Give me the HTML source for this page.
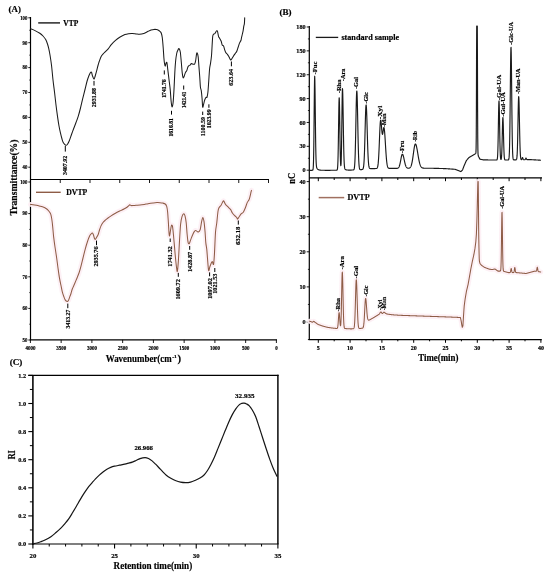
<!DOCTYPE html>
<html><head><meta charset="utf-8"><style>
html,body{margin:0;padding:0;background:#fff;}
body{width:550px;height:575px;overflow:hidden;}
svg{display:block;font-family:"Liberation Serif", serif;will-change:transform;}
text{stroke:#000;stroke-width:0.18px;}
</style></head><body>
<svg width="550" height="575" viewBox="0 0 550 575">
<rect width="550" height="575" fill="#fff"/>
<text x="8.60" y="12.40" font-size="8.9" text-anchor="start" font-weight="bold" fill="#000" textLength="12.30" lengthAdjust="spacingAndGlyphs">(A)</text>
<line x1="30.50" y1="17.00" x2="30.50" y2="180.10" stroke="#000" stroke-width="1.2"/>
<line x1="28.30" y1="17.80" x2="30.50" y2="17.80" stroke="#000" stroke-width="0.9"/>
<text x="27.40" y="19.60" font-size="5.2" text-anchor="end" font-weight="bold" fill="#000" textLength="7.20" lengthAdjust="spacingAndGlyphs">100</text>
<line x1="29.30" y1="30.25" x2="30.50" y2="30.25" stroke="#000" stroke-width="0.8"/>
<line x1="28.30" y1="42.70" x2="30.50" y2="42.70" stroke="#000" stroke-width="0.9"/>
<text x="27.40" y="44.50" font-size="5.2" text-anchor="end" font-weight="bold" fill="#000" textLength="4.80" lengthAdjust="spacingAndGlyphs">90</text>
<line x1="29.30" y1="55.15" x2="30.50" y2="55.15" stroke="#000" stroke-width="0.8"/>
<line x1="28.30" y1="67.60" x2="30.50" y2="67.60" stroke="#000" stroke-width="0.9"/>
<text x="27.40" y="69.40" font-size="5.2" text-anchor="end" font-weight="bold" fill="#000" textLength="4.80" lengthAdjust="spacingAndGlyphs">80</text>
<line x1="29.30" y1="80.05" x2="30.50" y2="80.05" stroke="#000" stroke-width="0.8"/>
<line x1="28.30" y1="92.50" x2="30.50" y2="92.50" stroke="#000" stroke-width="0.9"/>
<text x="27.40" y="94.30" font-size="5.2" text-anchor="end" font-weight="bold" fill="#000" textLength="4.80" lengthAdjust="spacingAndGlyphs">70</text>
<line x1="29.30" y1="104.95" x2="30.50" y2="104.95" stroke="#000" stroke-width="0.8"/>
<line x1="28.30" y1="117.40" x2="30.50" y2="117.40" stroke="#000" stroke-width="0.9"/>
<text x="27.40" y="119.20" font-size="5.2" text-anchor="end" font-weight="bold" fill="#000" textLength="4.80" lengthAdjust="spacingAndGlyphs">60</text>
<line x1="29.30" y1="129.85" x2="30.50" y2="129.85" stroke="#000" stroke-width="0.8"/>
<line x1="28.30" y1="142.30" x2="30.50" y2="142.30" stroke="#000" stroke-width="0.9"/>
<text x="27.40" y="144.10" font-size="5.2" text-anchor="end" font-weight="bold" fill="#000" textLength="4.80" lengthAdjust="spacingAndGlyphs">50</text>
<line x1="29.30" y1="154.75" x2="30.50" y2="154.75" stroke="#000" stroke-width="0.8"/>
<line x1="28.30" y1="167.20" x2="30.50" y2="167.20" stroke="#000" stroke-width="0.9"/>
<text x="27.40" y="169.00" font-size="5.2" text-anchor="end" font-weight="bold" fill="#000" textLength="4.80" lengthAdjust="spacingAndGlyphs">40</text>
<line x1="30.50" y1="179.50" x2="269.00" y2="179.50" stroke="#000" stroke-width="1.2"/>
<line x1="30.50" y1="179.50" x2="30.50" y2="183.00" stroke="#000" stroke-width="0.9"/>
<line x1="60.25" y1="179.50" x2="60.25" y2="183.00" stroke="#000" stroke-width="0.9"/>
<line x1="90.00" y1="179.50" x2="90.00" y2="183.00" stroke="#000" stroke-width="0.9"/>
<line x1="119.75" y1="179.50" x2="119.75" y2="183.00" stroke="#000" stroke-width="0.9"/>
<line x1="149.50" y1="179.50" x2="149.50" y2="183.00" stroke="#000" stroke-width="0.9"/>
<line x1="179.25" y1="179.50" x2="179.25" y2="183.00" stroke="#000" stroke-width="0.9"/>
<line x1="209.00" y1="179.50" x2="209.00" y2="183.00" stroke="#000" stroke-width="0.9"/>
<line x1="238.75" y1="179.50" x2="238.75" y2="183.00" stroke="#000" stroke-width="0.9"/>
<line x1="268.50" y1="179.50" x2="268.50" y2="183.00" stroke="#000" stroke-width="0.9"/>
<line x1="30.50" y1="179.50" x2="30.50" y2="340.10" stroke="#000" stroke-width="1.2"/>
<line x1="28.30" y1="182.00" x2="30.50" y2="182.00" stroke="#000" stroke-width="0.9"/>
<text x="27.40" y="183.80" font-size="5.2" text-anchor="end" font-weight="bold" fill="#000" textLength="7.20" lengthAdjust="spacingAndGlyphs">100</text>
<line x1="29.30" y1="197.80" x2="30.50" y2="197.80" stroke="#000" stroke-width="0.8"/>
<line x1="28.30" y1="213.60" x2="30.50" y2="213.60" stroke="#000" stroke-width="0.9"/>
<text x="27.40" y="215.40" font-size="5.2" text-anchor="end" font-weight="bold" fill="#000" textLength="4.80" lengthAdjust="spacingAndGlyphs">90</text>
<line x1="29.30" y1="229.40" x2="30.50" y2="229.40" stroke="#000" stroke-width="0.8"/>
<line x1="28.30" y1="245.20" x2="30.50" y2="245.20" stroke="#000" stroke-width="0.9"/>
<text x="27.40" y="247.00" font-size="5.2" text-anchor="end" font-weight="bold" fill="#000" textLength="4.80" lengthAdjust="spacingAndGlyphs">80</text>
<line x1="29.30" y1="261.00" x2="30.50" y2="261.00" stroke="#000" stroke-width="0.8"/>
<line x1="28.30" y1="276.80" x2="30.50" y2="276.80" stroke="#000" stroke-width="0.9"/>
<text x="27.40" y="278.60" font-size="5.2" text-anchor="end" font-weight="bold" fill="#000" textLength="4.80" lengthAdjust="spacingAndGlyphs">70</text>
<line x1="29.30" y1="292.60" x2="30.50" y2="292.60" stroke="#000" stroke-width="0.8"/>
<line x1="28.30" y1="308.40" x2="30.50" y2="308.40" stroke="#000" stroke-width="0.9"/>
<text x="27.40" y="310.20" font-size="5.2" text-anchor="end" font-weight="bold" fill="#000" textLength="4.80" lengthAdjust="spacingAndGlyphs">60</text>
<line x1="29.30" y1="324.20" x2="30.50" y2="324.20" stroke="#000" stroke-width="0.8"/>
<line x1="28.30" y1="340.00" x2="30.50" y2="340.00" stroke="#000" stroke-width="0.9"/>
<text x="27.40" y="341.80" font-size="5.2" text-anchor="end" font-weight="bold" fill="#000" textLength="4.80" lengthAdjust="spacingAndGlyphs">50</text>
<line x1="29.90" y1="339.80" x2="277.00" y2="339.80" stroke="#000" stroke-width="1.2"/>
<line x1="30.40" y1="339.80" x2="30.40" y2="343.00" stroke="#000" stroke-width="0.9"/>
<text x="30.40" y="349.50" font-size="5.2" text-anchor="middle" font-weight="bold" fill="#000" textLength="10.00" lengthAdjust="spacingAndGlyphs">4000</text>
<line x1="61.15" y1="339.80" x2="61.15" y2="343.00" stroke="#000" stroke-width="0.9"/>
<text x="61.15" y="349.50" font-size="5.2" text-anchor="middle" font-weight="bold" fill="#000" textLength="10.00" lengthAdjust="spacingAndGlyphs">3500</text>
<line x1="91.90" y1="339.80" x2="91.90" y2="343.00" stroke="#000" stroke-width="0.9"/>
<text x="91.90" y="349.50" font-size="5.2" text-anchor="middle" font-weight="bold" fill="#000" textLength="10.00" lengthAdjust="spacingAndGlyphs">3000</text>
<line x1="122.65" y1="339.80" x2="122.65" y2="343.00" stroke="#000" stroke-width="0.9"/>
<text x="122.65" y="349.50" font-size="5.2" text-anchor="middle" font-weight="bold" fill="#000" textLength="10.00" lengthAdjust="spacingAndGlyphs">2500</text>
<line x1="153.40" y1="339.80" x2="153.40" y2="343.00" stroke="#000" stroke-width="0.9"/>
<text x="153.40" y="349.50" font-size="5.2" text-anchor="middle" font-weight="bold" fill="#000" textLength="10.00" lengthAdjust="spacingAndGlyphs">2000</text>
<line x1="184.15" y1="339.80" x2="184.15" y2="343.00" stroke="#000" stroke-width="0.9"/>
<text x="184.15" y="349.50" font-size="5.2" text-anchor="middle" font-weight="bold" fill="#000" textLength="10.00" lengthAdjust="spacingAndGlyphs">1500</text>
<line x1="214.90" y1="339.80" x2="214.90" y2="343.00" stroke="#000" stroke-width="0.9"/>
<text x="214.90" y="349.50" font-size="5.2" text-anchor="middle" font-weight="bold" fill="#000" textLength="10.00" lengthAdjust="spacingAndGlyphs">1000</text>
<line x1="245.65" y1="339.80" x2="245.65" y2="343.00" stroke="#000" stroke-width="0.9"/>
<text x="245.65" y="349.50" font-size="5.2" text-anchor="middle" font-weight="bold" fill="#000" textLength="7.50" lengthAdjust="spacingAndGlyphs">500</text>
<line x1="276.40" y1="339.80" x2="276.40" y2="343.00" stroke="#000" stroke-width="0.9"/>
<text x="276.40" y="349.50" font-size="5.2" text-anchor="middle" font-weight="bold" fill="#000" textLength="2.50" lengthAdjust="spacingAndGlyphs">0</text>
<text x="105.70" y="362.20" font-size="10.6" text-anchor="start" font-weight="bold" fill="#000" textLength="66.00" lengthAdjust="spacingAndGlyphs">Wavenumber(cm</text>
<text x="172.20" y="358.00" font-size="5" text-anchor="start" font-weight="bold" fill="#000" textLength="4.50" lengthAdjust="spacingAndGlyphs">-1</text>
<text x="177.60" y="362.20" font-size="10.6" text-anchor="start" font-weight="bold" fill="#000" textLength="3.60" lengthAdjust="spacingAndGlyphs">)</text>
<text x="16.80" y="215.50" font-size="10" text-anchor="start" font-weight="bold" fill="#000" transform="rotate(-90 16.80 215.50)" textLength="76.00" lengthAdjust="spacingAndGlyphs">Transmittance(%)</text>
<line x1="38.20" y1="22.90" x2="60.00" y2="22.90" stroke="#1a1a1a" stroke-width="1.4"/>
<text x="63.30" y="25.50" font-size="7.7" text-anchor="start" font-weight="bold" fill="#000" textLength="14.90" lengthAdjust="spacingAndGlyphs">VTP</text>
<line x1="36.00" y1="192.30" x2="60.70" y2="192.30" stroke="#8e5c46" stroke-width="1.4"/>
<text x="66.30" y="195.20" font-size="7.9" text-anchor="start" font-weight="bold" fill="#000" textLength="20.90" lengthAdjust="spacingAndGlyphs">DVTP</text>
<path d="M30.50,28.80 C31.18,29.07 33.61,29.94 35.00,30.60 C36.39,31.26 38.60,32.39 39.80,33.20 C41.00,34.01 42.12,35.04 43.00,36.00 C43.88,36.96 45.03,38.40 45.70,39.60 C46.38,40.80 47.05,42.68 47.50,44.00 C47.95,45.32 48.33,46.75 48.70,48.40 C49.08,50.05 49.56,52.36 50.00,55.00 C50.44,57.64 51.15,62.25 51.60,66.00 C52.05,69.75 52.55,75.98 53.00,80.00 C53.45,84.02 54.15,89.05 54.60,92.80 C55.05,96.55 55.56,101.46 56.00,105.00 C56.44,108.54 57.05,113.25 57.50,116.40 C57.95,119.55 58.55,123.48 59.00,126.00 C59.45,128.52 60.05,131.25 60.50,133.20 C60.95,135.15 61.56,137.56 62.00,139.00 C62.44,140.44 62.83,141.87 63.40,142.80 C63.97,143.73 65.19,144.99 65.80,145.20 C66.41,145.41 66.96,144.90 67.50,144.20 C68.04,143.50 68.80,141.95 69.40,140.50 C70.00,139.05 70.84,136.33 71.50,134.50 C72.16,132.67 73.12,130.10 73.80,128.30 C74.47,126.50 75.34,124.28 76.00,122.50 C76.66,120.72 77.53,118.58 78.20,116.40 C78.88,114.23 79.83,110.66 80.50,108.00 C81.17,105.34 82.03,101.48 82.70,98.70 C83.38,95.92 84.34,92.16 85.00,89.50 C85.66,86.84 86.50,83.10 87.10,81.00 C87.70,78.90 88.47,76.81 89.00,75.50 C89.53,74.19 90.21,72.75 90.60,72.30 C90.99,71.85 91.31,71.96 91.60,72.50 C91.88,73.04 92.12,74.90 92.50,75.90 C92.88,76.91 93.69,79.19 94.10,79.20 C94.50,79.22 94.81,77.28 95.20,76.00 C95.59,74.72 96.28,72.28 96.70,70.70 C97.12,69.12 97.61,66.91 98.00,65.50 C98.39,64.09 98.79,62.71 99.30,61.30 C99.81,59.89 100.70,57.34 101.40,56.10 C102.11,54.86 102.98,54.09 104.00,53.00 C105.02,51.91 107.11,50.06 108.20,48.80 C109.30,47.54 110.20,45.86 111.30,44.60 C112.39,43.34 114.24,41.49 115.50,40.40 C116.76,39.30 118.29,38.17 119.70,37.30 C121.11,36.43 123.58,35.14 124.90,34.60 C126.22,34.06 127.41,33.87 128.50,33.70 C129.59,33.54 131.07,33.47 132.20,33.50 C133.32,33.53 134.91,33.78 136.00,33.90 C137.09,34.02 138.33,34.38 139.50,34.30 C140.67,34.22 142.50,33.85 143.80,33.40 C145.11,32.95 147.12,31.80 148.20,31.30 C149.28,30.80 150.13,30.39 151.00,30.10 C151.87,29.82 153.18,29.49 154.00,29.40 C154.82,29.31 155.84,29.38 156.50,29.50 C157.16,29.62 157.88,29.90 158.40,30.20 C158.93,30.50 159.56,31.04 160.00,31.50 C160.44,31.96 160.96,32.35 161.30,33.30 C161.65,34.24 162.02,35.64 162.30,37.80 C162.59,39.96 162.96,44.67 163.20,47.70 C163.44,50.73 163.71,55.63 163.90,58.00 C164.09,60.37 164.31,62.26 164.50,63.50 C164.69,64.75 164.97,66.33 165.20,66.30 C165.42,66.27 165.75,63.85 166.00,63.30 C166.25,62.74 166.63,61.66 166.90,62.60 C167.17,63.55 167.49,67.06 167.80,69.60 C168.12,72.13 168.64,76.53 169.00,79.50 C169.36,82.47 169.88,86.18 170.20,89.40 C170.51,92.62 170.83,98.38 171.10,101.00 C171.37,103.62 171.70,106.66 172.00,106.90 C172.30,107.14 172.80,105.22 173.10,102.60 C173.40,99.97 173.75,93.86 174.00,89.40 C174.25,84.95 174.56,77.12 174.80,72.90 C175.04,68.69 175.30,64.28 175.60,61.30 C175.90,58.31 176.43,54.74 176.80,53.00 C177.18,51.26 177.75,50.36 178.10,49.70 C178.44,49.04 178.77,48.26 179.10,48.60 C179.43,48.95 179.97,49.96 180.30,52.00 C180.63,54.04 181.02,59.11 181.30,62.20 C181.59,65.29 181.93,70.26 182.20,72.60 C182.47,74.94 182.81,77.22 183.10,77.80 C183.38,78.38 183.75,77.28 184.10,76.50 C184.44,75.72 185.01,73.47 185.40,72.60 C185.79,71.73 186.31,71.59 186.70,70.70 C187.09,69.81 187.61,67.50 188.00,66.70 C188.39,65.91 188.94,65.69 189.30,65.40 C189.66,65.12 190.10,65.08 190.40,64.80 C190.70,64.52 190.97,63.61 191.30,63.50 C191.63,63.39 192.10,64.01 192.60,64.10 C193.09,64.19 194.15,64.58 194.60,64.10 C195.05,63.62 195.31,62.37 195.60,60.90 C195.88,59.43 196.26,55.48 196.50,54.30 C196.74,53.11 196.94,52.59 197.20,53.00 C197.45,53.41 197.94,55.04 198.20,57.00 C198.45,58.96 198.66,62.98 198.90,66.10 C199.14,69.22 199.58,74.66 199.80,77.80 C200.03,80.94 200.18,85.03 200.40,87.00 C200.62,88.97 201.05,89.15 201.30,90.90 C201.56,92.66 201.89,96.26 202.10,98.70 C202.31,101.14 202.46,106.42 202.70,107.20 C202.94,107.98 203.40,104.98 203.70,103.90 C204.00,102.82 204.35,100.97 204.70,100.00 C205.04,99.03 205.66,97.82 206.00,97.40 C206.34,96.98 206.72,97.98 207.00,97.20 C207.28,96.42 207.65,94.53 207.90,92.20 C208.16,89.88 208.44,85.23 208.70,81.70 C208.95,78.17 209.33,71.43 209.60,68.70 C209.87,65.97 210.22,65.45 210.50,63.50 C210.78,61.55 211.25,58.62 211.50,55.70 C211.75,52.78 212.02,46.88 212.20,44.00 C212.38,41.12 212.53,37.92 212.70,36.50 C212.86,35.08 212.97,34.95 213.30,34.50 C213.63,34.05 214.42,34.04 214.90,33.50 C215.38,32.96 216.11,31.21 216.50,30.90 C216.89,30.58 217.19,30.54 217.50,31.40 C217.81,32.25 218.28,35.58 218.60,36.60 C218.91,37.62 219.21,37.50 219.60,38.20 C219.99,38.91 220.81,40.28 221.20,41.30 C221.59,42.32 221.84,44.30 222.20,45.00 C222.56,45.70 223.21,45.22 223.60,46.00 C223.99,46.78 224.46,49.18 224.80,50.20 C225.15,51.22 225.51,52.18 225.90,52.80 C226.29,53.41 226.97,53.76 227.40,54.30 C227.84,54.84 228.41,55.70 228.80,56.40 C229.19,57.10 229.69,58.45 230.00,59.00 C230.31,59.55 230.56,60.25 230.90,60.10 C231.25,59.95 231.81,58.78 232.30,58.00 C232.80,57.22 233.67,55.68 234.20,54.90 C234.72,54.12 235.41,53.35 235.80,52.80 C236.19,52.24 236.44,52.07 236.80,51.20 C237.16,50.33 237.81,48.17 238.20,47.00 C238.59,45.83 238.98,44.41 239.40,43.40 C239.82,42.39 240.69,41.15 241.00,40.30 C241.31,39.45 241.29,38.65 241.50,37.70 C241.71,36.76 242.16,35.02 242.40,34.00 C242.64,32.98 242.89,32.07 243.10,30.90 C243.31,29.73 243.61,27.29 243.80,26.20 C244.00,25.11 244.27,24.86 244.40,23.60 C244.53,22.34 244.66,18.67 244.70,17.80" fill="none" stroke="#1a1a1a" stroke-width="1.05" stroke-linejoin="round" stroke-linecap="round"/>
<path d="M30.50,204.40 C31.40,204.53 35.08,205.03 36.50,205.30 C37.92,205.57 38.92,205.90 40.00,206.20 C41.08,206.50 42.80,206.96 43.70,207.30 C44.60,207.65 45.36,208.08 46.00,208.50 C46.64,208.92 47.48,209.57 48.00,210.10 C48.52,210.62 49.08,211.35 49.50,212.00 C49.92,212.65 50.48,213.50 50.80,214.40 C51.11,215.30 51.38,216.71 51.60,218.00 C51.83,219.29 52.09,221.20 52.30,223.00 C52.51,224.80 52.79,227.84 53.00,230.00 C53.21,232.16 53.40,234.85 53.70,237.40 C54.00,239.95 54.56,243.99 55.00,247.00 C55.44,250.01 56.15,254.35 56.60,257.50 C57.05,260.65 57.58,264.99 58.00,268.00 C58.42,271.01 58.95,274.98 59.40,277.60 C59.85,280.23 60.56,283.36 61.00,285.50 C61.44,287.64 61.88,290.25 62.30,291.90 C62.72,293.55 63.36,295.30 63.80,296.50 C64.23,297.70 64.69,299.16 65.20,299.90 C65.71,300.63 66.72,301.31 67.20,301.40 C67.68,301.49 68.06,301.07 68.40,300.50 C68.75,299.93 69.11,298.65 69.50,297.60 C69.89,296.55 70.58,294.79 71.00,293.50 C71.42,292.21 71.77,290.43 72.30,289.00 C72.83,287.57 73.86,285.50 74.50,284.00 C75.14,282.50 75.92,280.65 76.60,279.00 C77.27,277.35 78.34,274.94 79.00,273.00 C79.66,271.06 80.40,268.35 81.00,266.10 C81.60,263.85 82.36,260.58 83.00,258.00 C83.64,255.42 84.62,251.38 85.30,248.90 C85.97,246.43 86.86,243.44 87.50,241.50 C88.14,239.56 89.07,237.12 89.60,236.00 C90.12,234.88 90.58,234.44 91.00,234.00 C91.42,233.56 92.03,232.95 92.40,233.10 C92.78,233.25 93.19,234.19 93.50,235.00 C93.81,235.81 94.23,237.84 94.50,238.50 C94.77,239.16 95.00,239.55 95.30,239.40 C95.60,239.25 96.06,238.24 96.50,237.50 C96.94,236.76 97.75,235.62 98.20,234.50 C98.65,233.38 99.08,231.29 99.50,230.00 C99.92,228.71 100.47,227.03 101.00,225.90 C101.53,224.78 102.36,223.35 103.00,222.50 C103.64,221.65 104.55,220.88 105.30,220.20 C106.05,219.52 107.13,218.65 108.00,218.00 C108.87,217.35 110.05,216.58 111.10,215.90 C112.15,215.22 113.71,214.24 115.00,213.50 C116.29,212.76 118.35,211.68 119.70,211.00 C121.05,210.32 122.91,209.56 124.00,209.00 C125.09,208.44 126.31,207.77 127.00,207.30 C127.69,206.84 128.18,206.29 128.60,205.90 C129.02,205.51 129.44,204.76 129.80,204.70 C130.16,204.64 130.59,205.37 131.00,205.50 C131.41,205.63 131.75,205.63 132.50,205.60 C133.25,205.57 134.88,205.39 136.00,205.30 C137.12,205.21 138.75,205.13 140.00,205.00 C141.25,204.87 143.10,204.59 144.30,204.40 C145.50,204.21 146.69,203.91 148.00,203.70 C149.31,203.49 151.65,203.16 153.00,203.00 C154.35,202.84 155.95,202.64 157.00,202.60 C158.05,202.56 159.13,202.62 160.00,202.70 C160.87,202.77 162.02,202.91 162.80,203.10 C163.58,203.29 164.61,203.52 165.20,204.00 C165.78,204.48 166.34,205.15 166.70,206.30 C167.06,207.46 167.34,209.22 167.60,211.70 C167.85,214.17 168.19,219.67 168.40,222.80 C168.61,225.94 168.82,230.62 169.00,232.60 C169.18,234.58 169.39,236.21 169.60,236.00 C169.81,235.79 170.13,232.76 170.40,231.20 C170.67,229.64 171.09,226.33 171.40,225.60 C171.72,224.87 172.19,224.84 172.50,226.30 C172.81,227.76 173.19,232.06 173.50,235.30 C173.81,238.54 174.28,244.34 174.60,247.90 C174.91,251.46 175.28,255.88 175.60,259.00 C175.91,262.12 176.43,266.87 176.70,268.70 C176.97,270.53 177.15,272.44 177.40,271.20 C177.66,269.95 178.09,264.94 178.40,260.40 C178.72,255.85 179.17,246.33 179.50,240.90 C179.83,235.47 180.22,227.84 180.60,224.20 C180.97,220.55 181.53,218.16 182.00,216.60 C182.47,215.04 183.25,213.91 183.70,213.80 C184.15,213.70 184.62,214.55 185.00,215.90 C185.38,217.25 185.88,220.09 186.20,222.80 C186.51,225.52 186.81,231.07 187.10,234.00 C187.38,236.93 187.78,240.85 188.10,242.30 C188.41,243.75 188.87,243.91 189.20,243.70 C189.53,243.49 189.99,241.74 190.30,240.90 C190.62,240.06 190.94,239.03 191.30,238.10 C191.66,237.17 192.28,235.63 192.70,234.70 C193.12,233.77 193.68,232.53 194.10,231.90 C194.52,231.27 195.08,230.60 195.50,230.50 C195.92,230.40 196.47,230.97 196.90,231.20 C197.34,231.42 197.91,232.24 198.40,232.00 C198.90,231.76 199.72,231.14 200.20,229.60 C200.68,228.06 201.21,223.53 201.60,221.70 C201.99,219.87 202.44,217.40 202.80,217.40 C203.16,217.40 203.66,219.48 204.00,221.70 C204.34,223.92 204.83,229.06 205.10,232.20 C205.37,235.33 205.55,239.99 205.80,242.60 C206.06,245.21 206.55,247.25 206.80,249.60 C207.06,251.95 207.23,255.18 207.50,258.30 C207.77,261.42 208.25,269.09 208.60,270.40 C208.94,271.70 209.37,268.17 209.80,267.00 C210.24,265.83 211.11,263.40 211.50,262.60 C211.89,261.81 212.09,261.44 212.40,261.70 C212.72,261.95 213.28,265.61 213.60,264.30 C213.91,263.00 214.22,257.81 214.50,253.00 C214.78,248.19 215.17,236.62 215.50,232.20 C215.83,227.77 216.32,226.63 216.70,223.50 C217.07,220.37 217.66,213.66 218.00,211.30 C218.34,208.95 218.53,208.72 219.00,207.80 C219.47,206.89 220.53,206.11 221.10,205.20 C221.67,204.28 222.41,202.34 222.80,201.70 C223.19,201.05 223.31,200.51 223.70,200.90 C224.09,201.29 224.88,203.52 225.40,204.30 C225.93,205.08 226.67,205.57 227.20,206.10 C227.72,206.62 228.38,207.28 228.90,207.80 C229.43,208.33 230.17,208.82 230.70,209.60 C231.22,210.38 231.80,212.09 232.40,213.00 C233.00,213.91 234.05,215.04 234.70,215.70 C235.34,216.36 236.26,216.89 236.70,217.40 C237.13,217.91 237.21,219.23 237.60,219.10 C237.99,218.97 238.78,217.28 239.30,216.50 C239.83,215.72 240.50,214.55 241.10,213.90 C241.70,213.25 242.66,213.11 243.30,212.20 C243.95,211.28 244.81,209.24 245.40,207.80 C245.99,206.36 246.67,203.77 247.20,202.60 C247.72,201.43 248.51,200.78 248.90,200.00 C249.29,199.22 249.49,198.57 249.80,197.40 C250.12,196.23 250.75,193.25 251.00,192.20 C251.25,191.15 251.43,190.67 251.50,190.40" fill="none" stroke="#fdeef4" stroke-width="5" stroke-linejoin="round" stroke-linecap="round" opacity="0.9"/>
<path d="M30.50,204.40 C31.40,204.53 35.08,205.03 36.50,205.30 C37.92,205.57 38.92,205.90 40.00,206.20 C41.08,206.50 42.80,206.96 43.70,207.30 C44.60,207.65 45.36,208.08 46.00,208.50 C46.64,208.92 47.48,209.57 48.00,210.10 C48.52,210.62 49.08,211.35 49.50,212.00 C49.92,212.65 50.48,213.50 50.80,214.40 C51.11,215.30 51.38,216.71 51.60,218.00 C51.83,219.29 52.09,221.20 52.30,223.00 C52.51,224.80 52.79,227.84 53.00,230.00 C53.21,232.16 53.40,234.85 53.70,237.40 C54.00,239.95 54.56,243.99 55.00,247.00 C55.44,250.01 56.15,254.35 56.60,257.50 C57.05,260.65 57.58,264.99 58.00,268.00 C58.42,271.01 58.95,274.98 59.40,277.60 C59.85,280.23 60.56,283.36 61.00,285.50 C61.44,287.64 61.88,290.25 62.30,291.90 C62.72,293.55 63.36,295.30 63.80,296.50 C64.23,297.70 64.69,299.16 65.20,299.90 C65.71,300.63 66.72,301.31 67.20,301.40 C67.68,301.49 68.06,301.07 68.40,300.50 C68.75,299.93 69.11,298.65 69.50,297.60 C69.89,296.55 70.58,294.79 71.00,293.50 C71.42,292.21 71.77,290.43 72.30,289.00 C72.83,287.57 73.86,285.50 74.50,284.00 C75.14,282.50 75.92,280.65 76.60,279.00 C77.27,277.35 78.34,274.94 79.00,273.00 C79.66,271.06 80.40,268.35 81.00,266.10 C81.60,263.85 82.36,260.58 83.00,258.00 C83.64,255.42 84.62,251.38 85.30,248.90 C85.97,246.43 86.86,243.44 87.50,241.50 C88.14,239.56 89.07,237.12 89.60,236.00 C90.12,234.88 90.58,234.44 91.00,234.00 C91.42,233.56 92.03,232.95 92.40,233.10 C92.78,233.25 93.19,234.19 93.50,235.00 C93.81,235.81 94.23,237.84 94.50,238.50 C94.77,239.16 95.00,239.55 95.30,239.40 C95.60,239.25 96.06,238.24 96.50,237.50 C96.94,236.76 97.75,235.62 98.20,234.50 C98.65,233.38 99.08,231.29 99.50,230.00 C99.92,228.71 100.47,227.03 101.00,225.90 C101.53,224.78 102.36,223.35 103.00,222.50 C103.64,221.65 104.55,220.88 105.30,220.20 C106.05,219.52 107.13,218.65 108.00,218.00 C108.87,217.35 110.05,216.58 111.10,215.90 C112.15,215.22 113.71,214.24 115.00,213.50 C116.29,212.76 118.35,211.68 119.70,211.00 C121.05,210.32 122.91,209.56 124.00,209.00 C125.09,208.44 126.31,207.77 127.00,207.30 C127.69,206.84 128.18,206.29 128.60,205.90 C129.02,205.51 129.44,204.76 129.80,204.70 C130.16,204.64 130.59,205.37 131.00,205.50 C131.41,205.63 131.75,205.63 132.50,205.60 C133.25,205.57 134.88,205.39 136.00,205.30 C137.12,205.21 138.75,205.13 140.00,205.00 C141.25,204.87 143.10,204.59 144.30,204.40 C145.50,204.21 146.69,203.91 148.00,203.70 C149.31,203.49 151.65,203.16 153.00,203.00 C154.35,202.84 155.95,202.64 157.00,202.60 C158.05,202.56 159.13,202.62 160.00,202.70 C160.87,202.77 162.02,202.91 162.80,203.10 C163.58,203.29 164.61,203.52 165.20,204.00 C165.78,204.48 166.34,205.15 166.70,206.30 C167.06,207.46 167.34,209.22 167.60,211.70 C167.85,214.17 168.19,219.67 168.40,222.80 C168.61,225.94 168.82,230.62 169.00,232.60 C169.18,234.58 169.39,236.21 169.60,236.00 C169.81,235.79 170.13,232.76 170.40,231.20 C170.67,229.64 171.09,226.33 171.40,225.60 C171.72,224.87 172.19,224.84 172.50,226.30 C172.81,227.76 173.19,232.06 173.50,235.30 C173.81,238.54 174.28,244.34 174.60,247.90 C174.91,251.46 175.28,255.88 175.60,259.00 C175.91,262.12 176.43,266.87 176.70,268.70 C176.97,270.53 177.15,272.44 177.40,271.20 C177.66,269.95 178.09,264.94 178.40,260.40 C178.72,255.85 179.17,246.33 179.50,240.90 C179.83,235.47 180.22,227.84 180.60,224.20 C180.97,220.55 181.53,218.16 182.00,216.60 C182.47,215.04 183.25,213.91 183.70,213.80 C184.15,213.70 184.62,214.55 185.00,215.90 C185.38,217.25 185.88,220.09 186.20,222.80 C186.51,225.52 186.81,231.07 187.10,234.00 C187.38,236.93 187.78,240.85 188.10,242.30 C188.41,243.75 188.87,243.91 189.20,243.70 C189.53,243.49 189.99,241.74 190.30,240.90 C190.62,240.06 190.94,239.03 191.30,238.10 C191.66,237.17 192.28,235.63 192.70,234.70 C193.12,233.77 193.68,232.53 194.10,231.90 C194.52,231.27 195.08,230.60 195.50,230.50 C195.92,230.40 196.47,230.97 196.90,231.20 C197.34,231.42 197.91,232.24 198.40,232.00 C198.90,231.76 199.72,231.14 200.20,229.60 C200.68,228.06 201.21,223.53 201.60,221.70 C201.99,219.87 202.44,217.40 202.80,217.40 C203.16,217.40 203.66,219.48 204.00,221.70 C204.34,223.92 204.83,229.06 205.10,232.20 C205.37,235.33 205.55,239.99 205.80,242.60 C206.06,245.21 206.55,247.25 206.80,249.60 C207.06,251.95 207.23,255.18 207.50,258.30 C207.77,261.42 208.25,269.09 208.60,270.40 C208.94,271.70 209.37,268.17 209.80,267.00 C210.24,265.83 211.11,263.40 211.50,262.60 C211.89,261.81 212.09,261.44 212.40,261.70 C212.72,261.95 213.28,265.61 213.60,264.30 C213.91,263.00 214.22,257.81 214.50,253.00 C214.78,248.19 215.17,236.62 215.50,232.20 C215.83,227.77 216.32,226.63 216.70,223.50 C217.07,220.37 217.66,213.66 218.00,211.30 C218.34,208.95 218.53,208.72 219.00,207.80 C219.47,206.89 220.53,206.11 221.10,205.20 C221.67,204.28 222.41,202.34 222.80,201.70 C223.19,201.05 223.31,200.51 223.70,200.90 C224.09,201.29 224.88,203.52 225.40,204.30 C225.93,205.08 226.67,205.57 227.20,206.10 C227.72,206.62 228.38,207.28 228.90,207.80 C229.43,208.33 230.17,208.82 230.70,209.60 C231.22,210.38 231.80,212.09 232.40,213.00 C233.00,213.91 234.05,215.04 234.70,215.70 C235.34,216.36 236.26,216.89 236.70,217.40 C237.13,217.91 237.21,219.23 237.60,219.10 C237.99,218.97 238.78,217.28 239.30,216.50 C239.83,215.72 240.50,214.55 241.10,213.90 C241.70,213.25 242.66,213.11 243.30,212.20 C243.95,211.28 244.81,209.24 245.40,207.80 C245.99,206.36 246.67,203.77 247.20,202.60 C247.72,201.43 248.51,200.78 248.90,200.00 C249.29,199.22 249.49,198.57 249.80,197.40 C250.12,196.23 250.75,193.25 251.00,192.20 C251.25,191.15 251.43,190.67 251.50,190.40" fill="none" stroke="#8e5c46" stroke-width="1.05" stroke-linejoin="round" stroke-linecap="round"/>
<text x="67.28" y="175.00" font-size="6" text-anchor="start" font-weight="bold" fill="#000" transform="rotate(-90 67.28 175.00)" textLength="19.10" lengthAdjust="spacingAndGlyphs">3407.92</text>
<line x1="65.30" y1="145.90" x2="65.30" y2="151.60" stroke="#000" stroke-width="1"/>
<text x="95.98" y="107.30" font-size="6" text-anchor="start" font-weight="bold" fill="#000" transform="rotate(-90 95.98 107.30)" textLength="19.40" lengthAdjust="spacingAndGlyphs">2931.88</text>
<line x1="94.00" y1="80.90" x2="94.00" y2="85.60" stroke="#000" stroke-width="1"/>
<text x="166.28" y="97.80" font-size="6" text-anchor="start" font-weight="bold" fill="#000" transform="rotate(-90 166.28 97.80)" textLength="18.50" lengthAdjust="spacingAndGlyphs">1741.76</text>
<line x1="164.30" y1="70.40" x2="164.30" y2="74.50" stroke="#000" stroke-width="1"/>
<text x="173.48" y="136.60" font-size="6" text-anchor="start" font-weight="bold" fill="#000" transform="rotate(-90 173.48 136.60)" textLength="18.40" lengthAdjust="spacingAndGlyphs">1616.81</text>
<line x1="171.50" y1="110.80" x2="171.50" y2="114.60" stroke="#000" stroke-width="1"/>
<text x="185.68" y="108.00" font-size="6" text-anchor="start" font-weight="bold" fill="#000" transform="rotate(-90 185.68 108.00)" textLength="16.40" lengthAdjust="spacingAndGlyphs">1421.41</text>
<line x1="183.70" y1="85.50" x2="183.70" y2="89.60" stroke="#000" stroke-width="1"/>
<text x="204.68" y="136.20" font-size="6" text-anchor="start" font-weight="bold" fill="#000" transform="rotate(-90 204.68 136.20)" textLength="19.20" lengthAdjust="spacingAndGlyphs">1100.59</text>
<line x1="202.70" y1="111.60" x2="202.70" y2="115.00" stroke="#000" stroke-width="1"/>
<text x="210.88" y="128.20" font-size="6" text-anchor="start" font-weight="bold" fill="#000" transform="rotate(-90 210.88 128.20)" textLength="18.80" lengthAdjust="spacingAndGlyphs">1023.99</text>
<line x1="208.90" y1="104.30" x2="208.90" y2="107.80" stroke="#000" stroke-width="1"/>
<text x="233.38" y="85.70" font-size="6" text-anchor="start" font-weight="bold" fill="#000" transform="rotate(-90 233.38 85.70)" textLength="16.70" lengthAdjust="spacingAndGlyphs">623.64</text>
<line x1="231.40" y1="61.50" x2="231.40" y2="66.30" stroke="#000" stroke-width="1"/>
<text x="69.78" y="328.40" font-size="6" text-anchor="start" font-weight="bold" fill="#000" transform="rotate(-90 69.78 328.40)" textLength="18.80" lengthAdjust="spacingAndGlyphs">3413.27</text>
<line x1="67.80" y1="303.60" x2="67.80" y2="308.20" stroke="#000" stroke-width="1"/>
<text x="98.48" y="266.60" font-size="6" text-anchor="start" font-weight="bold" fill="#000" transform="rotate(-90 98.48 266.60)" textLength="20.10" lengthAdjust="spacingAndGlyphs">2935.76</text>
<line x1="96.50" y1="240.60" x2="96.50" y2="245.20" stroke="#000" stroke-width="1"/>
<text x="172.18" y="266.70" font-size="6" text-anchor="start" font-weight="bold" fill="#000" transform="rotate(-90 172.18 266.70)" textLength="20.40" lengthAdjust="spacingAndGlyphs">1741.32</text>
<line x1="170.20" y1="238.50" x2="170.20" y2="242.00" stroke="#000" stroke-width="1"/>
<text x="180.28" y="299.50" font-size="6" text-anchor="start" font-weight="bold" fill="#000" transform="rotate(-90 180.28 299.50)" textLength="20.30" lengthAdjust="spacingAndGlyphs">1609.72</text>
<line x1="178.30" y1="272.90" x2="178.30" y2="276.80" stroke="#000" stroke-width="1"/>
<text x="191.68" y="272.10" font-size="6" text-anchor="start" font-weight="bold" fill="#000" transform="rotate(-90 191.68 272.10)" textLength="20.30" lengthAdjust="spacingAndGlyphs">1428.87</text>
<line x1="189.70" y1="246.00" x2="189.70" y2="249.80" stroke="#000" stroke-width="1"/>
<text x="211.58" y="298.90" font-size="6" text-anchor="start" font-weight="bold" fill="#000" transform="rotate(-90 211.58 298.90)" textLength="20.90" lengthAdjust="spacingAndGlyphs">1097.02</text>
<line x1="209.60" y1="272.40" x2="209.60" y2="276.30" stroke="#000" stroke-width="1"/>
<text x="216.78" y="293.70" font-size="6" text-anchor="start" font-weight="bold" fill="#000" transform="rotate(-90 216.78 293.70)" textLength="20.00" lengthAdjust="spacingAndGlyphs">1021.53</text>
<line x1="214.80" y1="268.00" x2="214.80" y2="272.00" stroke="#000" stroke-width="1"/>
<text x="240.28" y="245.00" font-size="6" text-anchor="start" font-weight="bold" fill="#000" transform="rotate(-90 240.28 245.00)" textLength="18.30" lengthAdjust="spacingAndGlyphs">632.18</text>
<line x1="238.30" y1="220.50" x2="238.30" y2="224.60" stroke="#000" stroke-width="1"/>
<text x="279.50" y="15.30" font-size="8.9" text-anchor="start" font-weight="bold" fill="#000" textLength="12.00" lengthAdjust="spacingAndGlyphs">(B)</text>
<line x1="309.30" y1="26.00" x2="309.30" y2="340.10" stroke="#000" stroke-width="1.2"/>
<line x1="306.70" y1="170.20" x2="309.30" y2="170.20" stroke="#000" stroke-width="0.9"/>
<text x="305.60" y="172.30" font-size="6" text-anchor="end" font-weight="bold" fill="#000" textLength="3.10" lengthAdjust="spacingAndGlyphs">0</text>
<line x1="307.90" y1="158.27" x2="309.30" y2="158.27" stroke="#000" stroke-width="0.8"/>
<line x1="306.70" y1="146.33" x2="309.30" y2="146.33" stroke="#000" stroke-width="0.9"/>
<text x="305.60" y="148.43" font-size="6" text-anchor="end" font-weight="bold" fill="#000" textLength="6.20" lengthAdjust="spacingAndGlyphs">30</text>
<line x1="307.90" y1="134.40" x2="309.30" y2="134.40" stroke="#000" stroke-width="0.8"/>
<line x1="306.70" y1="122.46" x2="309.30" y2="122.46" stroke="#000" stroke-width="0.9"/>
<text x="305.60" y="124.56" font-size="6" text-anchor="end" font-weight="bold" fill="#000" textLength="6.20" lengthAdjust="spacingAndGlyphs">60</text>
<line x1="307.90" y1="110.53" x2="309.30" y2="110.53" stroke="#000" stroke-width="0.8"/>
<line x1="306.70" y1="98.60" x2="309.30" y2="98.60" stroke="#000" stroke-width="0.9"/>
<text x="305.60" y="100.70" font-size="6" text-anchor="end" font-weight="bold" fill="#000" textLength="6.20" lengthAdjust="spacingAndGlyphs">90</text>
<line x1="307.90" y1="86.66" x2="309.30" y2="86.66" stroke="#000" stroke-width="0.8"/>
<line x1="306.70" y1="74.73" x2="309.30" y2="74.73" stroke="#000" stroke-width="0.9"/>
<text x="305.60" y="76.83" font-size="6" text-anchor="end" font-weight="bold" fill="#000" textLength="9.30" lengthAdjust="spacingAndGlyphs">120</text>
<line x1="307.90" y1="62.79" x2="309.30" y2="62.79" stroke="#000" stroke-width="0.8"/>
<line x1="306.70" y1="50.86" x2="309.30" y2="50.86" stroke="#000" stroke-width="0.9"/>
<text x="305.60" y="52.96" font-size="6" text-anchor="end" font-weight="bold" fill="#000" textLength="9.30" lengthAdjust="spacingAndGlyphs">150</text>
<line x1="307.90" y1="38.93" x2="309.30" y2="38.93" stroke="#000" stroke-width="0.8"/>
<line x1="306.70" y1="26.99" x2="309.30" y2="26.99" stroke="#000" stroke-width="0.9"/>
<text x="305.60" y="29.09" font-size="6" text-anchor="end" font-weight="bold" fill="#000" textLength="9.30" lengthAdjust="spacingAndGlyphs">180</text>
<line x1="309.30" y1="177.80" x2="542.00" y2="177.80" stroke="#000" stroke-width="1.2"/>
<line x1="318.30" y1="177.80" x2="318.30" y2="181.20" stroke="#000" stroke-width="1"/>
<line x1="334.20" y1="177.80" x2="334.20" y2="180.00" stroke="#000" stroke-width="1"/>
<line x1="350.10" y1="177.80" x2="350.10" y2="181.20" stroke="#000" stroke-width="1"/>
<line x1="366.00" y1="177.80" x2="366.00" y2="180.00" stroke="#000" stroke-width="1"/>
<line x1="381.90" y1="177.80" x2="381.90" y2="181.20" stroke="#000" stroke-width="1"/>
<line x1="397.80" y1="177.80" x2="397.80" y2="180.00" stroke="#000" stroke-width="1"/>
<line x1="413.70" y1="177.80" x2="413.70" y2="181.20" stroke="#000" stroke-width="1"/>
<line x1="429.60" y1="177.80" x2="429.60" y2="180.00" stroke="#000" stroke-width="1"/>
<line x1="445.50" y1="177.80" x2="445.50" y2="181.20" stroke="#000" stroke-width="1"/>
<line x1="461.40" y1="177.80" x2="461.40" y2="180.00" stroke="#000" stroke-width="1"/>
<line x1="477.30" y1="177.80" x2="477.30" y2="181.20" stroke="#000" stroke-width="1"/>
<line x1="493.20" y1="177.80" x2="493.20" y2="180.00" stroke="#000" stroke-width="1"/>
<line x1="509.10" y1="177.80" x2="509.10" y2="181.20" stroke="#000" stroke-width="1"/>
<line x1="525.00" y1="177.80" x2="525.00" y2="180.00" stroke="#000" stroke-width="1"/>
<line x1="540.90" y1="177.80" x2="540.90" y2="181.20" stroke="#000" stroke-width="1"/>
<line x1="306.70" y1="322.00" x2="309.30" y2="322.00" stroke="#000" stroke-width="0.9"/>
<text x="305.60" y="324.10" font-size="6" text-anchor="end" font-weight="bold" fill="#000" textLength="3.10" lengthAdjust="spacingAndGlyphs">0</text>
<line x1="307.90" y1="304.45" x2="309.30" y2="304.45" stroke="#000" stroke-width="0.8"/>
<line x1="306.70" y1="286.90" x2="309.30" y2="286.90" stroke="#000" stroke-width="0.9"/>
<text x="305.60" y="289.00" font-size="6" text-anchor="end" font-weight="bold" fill="#000" textLength="6.20" lengthAdjust="spacingAndGlyphs">10</text>
<line x1="307.90" y1="269.35" x2="309.30" y2="269.35" stroke="#000" stroke-width="0.8"/>
<line x1="306.70" y1="251.80" x2="309.30" y2="251.80" stroke="#000" stroke-width="0.9"/>
<text x="305.60" y="253.90" font-size="6" text-anchor="end" font-weight="bold" fill="#000" textLength="6.20" lengthAdjust="spacingAndGlyphs">20</text>
<line x1="307.90" y1="234.25" x2="309.30" y2="234.25" stroke="#000" stroke-width="0.8"/>
<line x1="306.70" y1="216.70" x2="309.30" y2="216.70" stroke="#000" stroke-width="0.9"/>
<text x="305.60" y="218.80" font-size="6" text-anchor="end" font-weight="bold" fill="#000" textLength="6.20" lengthAdjust="spacingAndGlyphs">30</text>
<line x1="307.90" y1="199.15" x2="309.30" y2="199.15" stroke="#000" stroke-width="0.8"/>
<line x1="306.70" y1="181.60" x2="309.30" y2="181.60" stroke="#000" stroke-width="0.9"/>
<text x="305.60" y="183.70" font-size="6" text-anchor="end" font-weight="bold" fill="#000" textLength="6.20" lengthAdjust="spacingAndGlyphs">40</text>
<line x1="307.90" y1="339.55" x2="309.30" y2="339.55" stroke="#000" stroke-width="0.8"/>
<line x1="308.70" y1="339.60" x2="541.80" y2="339.60" stroke="#000" stroke-width="1.2"/>
<line x1="318.30" y1="339.60" x2="318.30" y2="342.80" stroke="#000" stroke-width="1"/>
<text x="318.30" y="350.30" font-size="6" text-anchor="middle" font-weight="bold" fill="#000" textLength="3.00" lengthAdjust="spacingAndGlyphs">5</text>
<line x1="334.20" y1="339.60" x2="334.20" y2="341.30" stroke="#000" stroke-width="1"/>
<line x1="350.10" y1="339.60" x2="350.10" y2="342.80" stroke="#000" stroke-width="1"/>
<text x="350.10" y="350.30" font-size="6" text-anchor="middle" font-weight="bold" fill="#000" textLength="6.00" lengthAdjust="spacingAndGlyphs">10</text>
<line x1="366.00" y1="339.60" x2="366.00" y2="341.30" stroke="#000" stroke-width="1"/>
<line x1="381.90" y1="339.60" x2="381.90" y2="342.80" stroke="#000" stroke-width="1"/>
<text x="381.90" y="350.30" font-size="6" text-anchor="middle" font-weight="bold" fill="#000" textLength="6.00" lengthAdjust="spacingAndGlyphs">15</text>
<line x1="397.80" y1="339.60" x2="397.80" y2="341.30" stroke="#000" stroke-width="1"/>
<line x1="413.70" y1="339.60" x2="413.70" y2="342.80" stroke="#000" stroke-width="1"/>
<text x="413.70" y="350.30" font-size="6" text-anchor="middle" font-weight="bold" fill="#000" textLength="6.00" lengthAdjust="spacingAndGlyphs">20</text>
<line x1="429.60" y1="339.60" x2="429.60" y2="341.30" stroke="#000" stroke-width="1"/>
<line x1="445.50" y1="339.60" x2="445.50" y2="342.80" stroke="#000" stroke-width="1"/>
<text x="445.50" y="350.30" font-size="6" text-anchor="middle" font-weight="bold" fill="#000" textLength="6.00" lengthAdjust="spacingAndGlyphs">25</text>
<line x1="461.40" y1="339.60" x2="461.40" y2="341.30" stroke="#000" stroke-width="1"/>
<line x1="477.30" y1="339.60" x2="477.30" y2="342.80" stroke="#000" stroke-width="1"/>
<text x="477.30" y="350.30" font-size="6" text-anchor="middle" font-weight="bold" fill="#000" textLength="6.00" lengthAdjust="spacingAndGlyphs">30</text>
<line x1="493.20" y1="339.60" x2="493.20" y2="341.30" stroke="#000" stroke-width="1"/>
<line x1="509.10" y1="339.60" x2="509.10" y2="342.80" stroke="#000" stroke-width="1"/>
<text x="509.10" y="350.30" font-size="6" text-anchor="middle" font-weight="bold" fill="#000" textLength="6.00" lengthAdjust="spacingAndGlyphs">35</text>
<line x1="525.00" y1="339.60" x2="525.00" y2="341.30" stroke="#000" stroke-width="1"/>
<line x1="540.90" y1="339.60" x2="540.90" y2="342.80" stroke="#000" stroke-width="1"/>
<text x="540.90" y="350.30" font-size="6" text-anchor="middle" font-weight="bold" fill="#000" textLength="6.00" lengthAdjust="spacingAndGlyphs">40</text>
<text x="418.20" y="361.20" font-size="10" text-anchor="start" font-weight="bold" fill="#000" textLength="40.30" lengthAdjust="spacingAndGlyphs">Time(min)</text>
<text x="294.70" y="183.70" font-size="10" text-anchor="start" font-weight="bold" fill="#000" transform="rotate(-90 294.70 183.70)" textLength="10.90" lengthAdjust="spacingAndGlyphs">nC</text>
<line x1="315.80" y1="37.40" x2="338.20" y2="37.40" stroke="#1a1a1a" stroke-width="1.3"/>
<text x="341.40" y="39.60" font-size="8.1" text-anchor="start" font-weight="bold" fill="#000" textLength="57.80" lengthAdjust="spacingAndGlyphs">standard sample</text>
<line x1="318.70" y1="197.60" x2="344.20" y2="197.60" stroke="#a07060" stroke-width="1.5"/>
<text x="347.40" y="200.20" font-size="8.2" text-anchor="start" font-weight="bold" fill="#000">DVTP</text>
<path d="M309.60,170.30 L309.75,170.30 L309.90,170.30 L310.05,170.30 L310.20,170.30 L310.35,170.30 L310.50,170.30 L310.65,170.30 L310.80,170.30 L310.95,170.30 L311.10,170.30 L311.25,170.30 L311.40,170.30 L311.55,170.30 L311.70,170.30 L311.85,170.30 L312.00,170.30 L312.15,170.30 L312.30,170.29 L312.45,170.28 L312.60,170.24 L312.75,170.12 L312.90,169.86 L313.05,169.25 L313.20,168.02 L313.35,165.67 L313.50,161.59 L313.65,155.09 L313.80,145.63 L313.95,133.16 L314.10,118.40 L314.25,102.97 L314.40,89.21 L314.55,79.64 L314.70,76.20 L314.85,79.98 L315.00,88.26 L315.15,99.81 L315.30,112.96 L315.45,126.05 L315.60,137.77 L315.75,147.36 L315.90,154.61 L316.05,159.71 L316.20,163.10 L316.35,165.24 L316.50,166.55 L316.65,167.36 L316.80,167.87 L316.95,168.23 L317.10,168.49 L317.25,168.70 L317.40,168.88 L317.55,169.04 L317.70,169.18 L317.85,169.30 L318.00,169.41 L318.15,169.51 L318.30,169.59 L318.45,169.67 L318.60,169.74 L318.75,169.80 L318.90,169.85 L319.05,169.90 L319.20,169.95 L319.35,169.98 L319.50,170.02 L319.65,170.05 L319.80,170.08 L319.95,170.10 L320.10,170.12 L320.25,170.14 L320.40,170.16 L320.55,170.17 L320.70,170.19 L320.85,170.20 L321.00,170.21 L321.15,170.22 L321.30,170.23 L321.45,170.24 L321.60,170.24 L321.75,170.25 L321.90,170.26 L322.05,170.26 L322.20,170.26 L322.35,170.27 L322.50,170.27 L322.65,170.28 L322.80,170.28 L322.95,170.28 L323.10,170.28 L323.25,170.28 L323.40,170.29 L323.55,170.29 L323.70,170.29 L323.85,170.29 L324.00,170.29 L324.15,170.29 L324.30,170.29 L324.45,170.29 L324.60,170.29 L324.75,170.30 L324.90,170.30 L325.05,170.30 L325.20,170.30 L325.35,170.30 L325.50,170.30 L325.65,170.30 L325.80,170.30 L325.95,170.30 L326.10,170.30 L326.25,170.30 L326.40,170.30 L326.55,170.30 L326.70,170.30 L326.85,170.30 L327.00,170.30 L327.15,170.30 L327.30,170.30 L327.45,170.30 L327.60,170.30 L327.75,170.30 L327.90,170.30 L328.05,170.30 L328.20,170.30 L328.35,170.30 L328.50,170.30 L328.65,170.30 L328.80,170.30 L328.95,170.30 L329.10,170.30 L329.25,170.30 L329.40,170.30 L329.55,170.30 L329.70,170.30 L329.85,170.30 L330.00,170.30 L330.15,170.30 L330.30,170.30 L330.45,170.30 L330.60,170.29 L330.75,170.29 L330.90,170.29 L331.05,170.29 L331.20,170.29 L331.35,170.29 L331.50,170.28 L331.65,170.28 L331.80,170.28 L331.95,170.28 L332.10,170.28 L332.25,170.28 L332.40,170.28 L332.55,170.27 L332.70,170.27 L332.85,170.27 L333.00,170.27 L333.15,170.27 L333.30,170.27 L333.45,170.27 L333.60,170.26 L333.75,170.26 L333.90,170.26 L334.05,170.26 L334.20,170.26 L334.35,170.26 L334.50,170.25 L334.65,170.25 L334.80,170.25 L334.95,170.25 L335.10,170.25 L335.25,170.25 L335.40,170.25 L335.55,170.24 L335.70,170.24 L335.85,170.24 L336.00,170.24 L336.15,170.24 L336.30,170.24 L336.45,170.23 L336.60,170.22 L336.75,170.20 L336.90,170.16 L337.05,170.05 L337.20,169.83 L337.35,169.38 L337.50,168.53 L337.65,167.03 L337.80,164.54 L337.95,160.69 L338.10,155.15 L338.25,147.74 L338.40,138.59 L338.55,128.25 L338.70,117.69 L338.85,108.21 L339.00,101.19 L339.15,97.74 L339.30,98.44 L339.45,103.17 L339.60,111.16 L339.75,121.14 L339.90,131.75 L340.05,141.76 L340.20,150.31 L340.35,156.98 L340.50,161.67 L340.65,164.52 L340.80,165.68 L340.95,165.24 L341.10,163.13 L341.25,159.15 L341.40,153.08 L341.55,144.82 L341.70,134.55 L341.85,122.91 L342.00,111.03 L342.15,100.36 L342.30,92.45 L342.45,88.57 L342.60,89.49 L342.75,93.60 L342.90,100.14 L343.05,108.46 L343.20,117.78 L343.35,127.31 L343.50,136.35 L343.65,144.40 L343.80,151.18 L343.95,156.58 L344.10,160.69 L344.25,163.68 L344.40,165.77 L344.55,167.17 L344.70,168.09 L344.85,168.67 L345.00,169.04 L345.15,169.28 L345.30,169.44 L345.45,169.55 L345.60,169.63 L345.75,169.70 L345.90,169.75 L346.05,169.80 L346.20,169.84 L346.35,169.87 L346.50,169.90 L346.65,169.93 L346.80,169.95 L346.95,169.97 L347.10,169.99 L347.25,170.00 L347.40,170.02 L347.55,170.03 L347.70,170.04 L347.85,170.05 L348.00,170.05 L348.15,170.06 L348.30,170.06 L348.45,170.07 L348.60,170.07 L348.75,170.08 L348.90,170.08 L349.05,170.08 L349.20,170.08 L349.35,170.08 L349.50,170.09 L349.65,170.09 L349.80,170.09 L349.95,170.09 L350.10,170.09 L350.25,170.08 L350.40,170.08 L350.55,170.08 L350.70,170.07 L350.85,170.07 L351.00,170.06 L351.15,170.06 L351.30,170.06 L351.45,170.05 L351.60,170.05 L351.75,170.04 L351.90,170.04 L352.05,170.04 L352.20,170.03 L352.35,170.03 L352.50,170.02 L352.65,170.02 L352.80,170.01 L352.95,170.00 L353.10,169.99 L353.25,169.97 L353.40,169.93 L353.55,169.88 L353.70,169.78 L353.85,169.62 L354.00,169.35 L354.15,168.94 L354.30,168.30 L354.45,167.35 L354.60,165.98 L354.75,164.06 L354.90,161.44 L355.05,158.02 L355.20,153.68 L355.35,148.36 L355.50,142.10 L355.65,135.01 L355.80,127.31 L355.95,119.35 L356.10,111.54 L356.25,104.37 L356.40,98.34 L356.55,93.90 L356.70,91.39 L356.85,91.01 L357.00,92.63 L357.15,96.07 L357.30,101.10 L357.45,107.37 L357.60,114.46 L357.75,121.95 L357.90,129.45 L358.05,136.62 L358.20,143.18 L358.35,148.98 L358.50,153.91 L358.65,157.98 L358.80,161.22 L358.95,163.73 L359.10,165.61 L359.25,166.98 L359.40,167.95 L359.55,168.62 L359.70,169.06 L359.85,169.35 L360.00,169.53 L360.15,169.62 L360.30,169.67 L360.45,169.70 L360.60,169.70 L360.75,169.70 L360.90,169.68 L361.05,169.67 L361.20,169.65 L361.35,169.64 L361.50,169.62 L361.65,169.60 L361.80,169.58 L361.95,169.55 L362.10,169.53 L362.25,169.49 L362.40,169.44 L362.55,169.38 L362.70,169.28 L362.85,169.13 L363.00,168.91 L363.15,168.59 L363.30,168.13 L363.45,167.47 L363.60,166.55 L363.75,165.29 L363.90,163.63 L364.05,161.47 L364.20,158.74 L364.35,155.40 L364.50,151.42 L364.65,146.82 L364.80,141.66 L364.95,136.08 L365.10,130.27 L365.25,124.46 L365.40,118.93 L365.55,113.97 L365.70,109.88 L365.85,106.90 L366.00,105.23 L366.15,104.96 L366.30,105.93 L366.45,108.03 L366.60,111.14 L366.75,115.10 L366.90,119.72 L367.05,124.76 L367.20,130.02 L367.35,135.27 L367.50,140.35 L367.65,145.10 L367.80,149.42 L367.95,153.25 L368.10,156.54 L368.25,159.31 L368.40,161.58 L368.55,163.40 L368.70,164.83 L368.85,165.92 L369.00,166.73 L369.15,167.33 L369.30,167.75 L369.45,168.04 L369.60,168.24 L369.75,168.37 L369.90,168.45 L370.05,168.50 L370.20,168.54 L370.35,168.56 L370.50,168.57 L370.65,168.58 L370.80,168.59 L370.95,168.59 L371.10,168.59 L371.25,168.59 L371.40,168.59 L371.55,168.58 L371.70,168.58 L371.85,168.58 L372.00,168.58 L372.15,168.58 L372.30,168.58 L372.45,168.58 L372.60,168.57 L372.75,168.57 L372.90,168.57 L373.05,168.57 L373.20,168.57 L373.35,168.57 L373.50,168.56 L373.65,168.56 L373.80,168.56 L373.95,168.56 L374.10,168.56 L374.25,168.56 L374.40,168.56 L374.55,168.55 L374.70,168.55 L374.85,168.55 L375.00,168.55 L375.15,168.55 L375.30,168.55 L375.45,168.54 L375.60,168.54 L375.75,168.54 L375.90,168.53 L376.05,168.52 L376.20,168.51 L376.35,168.49 L376.50,168.45 L376.65,168.40 L376.80,168.33 L376.95,168.22 L377.10,168.07 L377.25,167.85 L377.40,167.54 L377.55,167.12 L377.70,166.56 L377.85,165.81 L378.00,164.85 L378.15,163.63 L378.30,162.11 L378.45,160.28 L378.60,158.09 L378.75,155.54 L378.90,152.64 L379.05,149.42 L379.20,145.94 L379.35,142.27 L379.50,138.51 L379.65,134.79 L379.80,131.23 L379.95,127.98 L380.10,125.16 L380.25,122.90 L380.40,121.28 L380.55,120.37 L380.70,120.13 L380.85,120.48 L381.00,121.33 L381.15,122.61 L381.30,124.21 L381.45,126.01 L381.60,127.87 L381.75,129.66 L381.90,131.27 L382.05,132.60 L382.20,133.57 L382.35,134.13 L382.50,134.27 L382.65,134.02 L382.80,133.41 L382.95,132.52 L383.10,131.46 L383.25,130.34 L383.40,129.27 L383.55,128.37 L383.70,127.74 L383.85,127.48 L384.00,127.63 L384.15,128.17 L384.30,129.05 L384.45,130.25 L384.60,131.77 L384.75,133.57 L384.90,135.62 L385.05,137.86 L385.20,140.24 L385.35,142.71 L385.50,145.21 L385.65,147.69 L385.80,150.10 L385.95,152.40 L386.10,154.56 L386.25,156.56 L386.40,158.38 L386.55,160.01 L386.70,161.45 L386.85,162.71 L387.00,163.79 L387.15,164.71 L387.30,165.48 L387.45,166.12 L387.60,166.64 L387.75,167.06 L387.90,167.39 L388.05,167.65 L388.20,167.86 L388.35,168.01 L388.50,168.13 L388.65,168.22 L388.80,168.29 L388.95,168.33 L389.10,168.37 L389.25,168.39 L389.40,168.41 L389.55,168.42 L389.70,168.43 L389.85,168.43 L390.00,168.44 L390.15,168.44 L390.30,168.44 L390.45,168.44 L390.60,168.44 L390.75,168.44 L390.90,168.44 L391.05,168.44 L391.20,168.44 L391.35,168.44 L391.50,168.44 L391.65,168.44 L391.80,168.43 L391.95,168.43 L392.10,168.43 L392.25,168.43 L392.40,168.43 L392.55,168.43 L392.70,168.43 L392.85,168.43 L393.00,168.43 L393.15,168.43 L393.30,168.43 L393.45,168.43 L393.60,168.42 L393.75,168.42 L393.90,168.42 L394.05,168.42 L394.20,168.42 L394.35,168.42 L394.50,168.42 L394.65,168.42 L394.80,168.42 L394.95,168.42 L395.10,168.42 L395.25,168.41 L395.40,168.41 L395.55,168.41 L395.70,168.41 L395.85,168.41 L396.00,168.41 L396.15,168.40 L396.30,168.40 L396.45,168.39 L396.60,168.39 L396.75,168.38 L396.90,168.37 L397.05,168.35 L397.20,168.33 L397.35,168.31 L397.50,168.27 L397.65,168.23 L397.80,168.17 L397.95,168.10 L398.10,168.02 L398.25,167.91 L398.40,167.77 L398.55,167.61 L398.70,167.42 L398.85,167.19 L399.00,166.91 L399.15,166.59 L399.30,166.22 L399.45,165.80 L399.60,165.32 L399.75,164.79 L399.90,164.21 L400.05,163.57 L400.20,162.88 L400.35,162.15 L400.50,161.38 L400.65,160.59 L400.80,159.79 L400.95,158.98 L401.10,158.19 L401.25,157.43 L401.40,156.72 L401.55,156.07 L401.70,155.50 L401.85,155.02 L402.00,154.64 L402.15,154.37 L402.30,154.23 L402.45,154.21 L402.60,154.29 L402.75,154.46 L402.90,154.73 L403.05,155.09 L403.20,155.53 L403.35,156.04 L403.50,156.61 L403.65,157.23 L403.80,157.89 L403.95,158.58 L404.10,159.29 L404.25,160.00 L404.40,160.72 L404.55,161.41 L404.70,162.09 L404.85,162.74 L405.00,163.36 L405.15,163.94 L405.30,164.48 L405.45,164.98 L405.60,165.43 L405.75,165.84 L405.90,166.21 L406.05,166.54 L406.20,166.82 L406.35,167.07 L406.50,167.29 L406.65,167.47 L406.80,167.63 L406.95,167.76 L407.10,167.87 L407.25,167.96 L407.40,168.03 L407.55,168.09 L407.70,168.14 L407.85,168.17 L408.00,168.20 L408.15,168.22 L408.30,168.23 L408.45,168.23 L408.60,168.22 L408.75,168.21 L408.90,168.19 L409.05,168.16 L409.20,168.12 L409.35,168.07 L409.50,168.01 L409.65,167.93 L409.80,167.84 L409.95,167.73 L410.10,167.60 L410.25,167.44 L410.40,167.25 L410.55,167.04 L410.70,166.78 L410.85,166.49 L411.00,166.16 L411.15,165.78 L411.30,165.35 L411.45,164.86 L411.60,164.32 L411.75,163.72 L411.90,163.06 L412.05,162.34 L412.20,161.56 L412.35,160.72 L412.50,159.82 L412.65,158.87 L412.80,157.87 L412.95,156.84 L413.10,155.77 L413.25,154.67 L413.40,153.57 L413.55,152.47 L413.70,151.38 L413.85,150.31 L414.00,149.29 L414.15,148.32 L414.30,147.42 L414.45,146.60 L414.60,145.87 L414.75,145.25 L414.90,144.75 L415.05,144.37 L415.20,144.12 L415.35,144.01 L415.50,144.02 L415.65,144.13 L415.80,144.33 L415.95,144.63 L416.10,145.01 L416.25,145.47 L416.40,146.01 L416.55,146.63 L416.70,147.31 L416.85,148.04 L417.00,148.83 L417.15,149.66 L417.30,150.52 L417.45,151.41 L417.60,152.32 L417.75,153.24 L417.90,154.16 L418.05,155.07 L418.20,155.97 L418.35,156.86 L418.50,157.72 L418.65,158.56 L418.80,159.36 L418.95,160.13 L419.10,160.87 L419.25,161.56 L419.40,162.21 L419.55,162.82 L419.70,163.38 L419.85,163.91 L420.00,164.39 L420.15,164.83 L420.30,165.24 L420.45,165.60 L420.60,165.94 L420.75,166.23 L420.90,166.50 L421.05,166.74 L421.20,166.95 L421.35,167.13 L421.50,167.29 L421.65,167.43 L421.80,167.56 L421.95,167.66 L422.10,167.76 L422.25,167.83 L422.40,167.90 L422.55,167.96 L422.70,168.01 L422.85,168.05 L423.00,168.08 L423.15,168.11 L423.30,168.13 L423.45,168.15 L423.60,168.17 L423.75,168.18 L423.90,168.19 L424.05,168.20 L424.20,168.21 L424.35,168.21 L424.50,168.22 L424.65,168.22 L424.80,168.22 L424.95,168.22 L425.10,168.22 L425.25,168.22 L425.40,168.22 L425.55,168.22 L425.70,168.22 L425.85,168.22 L426.00,168.22 L426.15,168.22 L426.30,168.22 L426.45,168.22 L426.60,168.22 L426.75,168.22 L426.90,168.22 L427.05,168.22 L427.20,168.22 L427.35,168.22 L427.50,168.22 L427.65,168.21 L427.80,168.21 L427.95,168.21 L428.10,168.21 L428.25,168.21 L428.40,168.21 L428.55,168.21 L428.70,168.21 L428.85,168.21 L429.00,168.21 L429.15,168.21 L429.30,168.20 L429.45,168.20 L429.60,168.20 L429.75,168.20 L429.90,168.20 L430.05,168.20 L430.20,168.21 L430.35,168.21 L430.50,168.21 L430.65,168.22 L430.80,168.22 L430.95,168.23 L431.10,168.23 L431.25,168.23 L431.40,168.24 L431.55,168.24 L431.70,168.25 L431.85,168.25 L432.00,168.25 L432.15,168.26 L432.30,168.26 L432.45,168.27 L432.60,168.27 L432.75,168.27 L432.90,168.28 L433.05,168.28 L433.20,168.29 L433.35,168.29 L433.50,168.29 L433.65,168.30 L433.80,168.30 L433.95,168.31 L434.10,168.31 L434.25,168.31 L434.40,168.32 L434.55,168.32 L434.70,168.33 L434.85,168.33 L435.00,168.33 L435.15,168.34 L435.30,168.34 L435.45,168.35 L435.60,168.35 L435.75,168.35 L435.90,168.36 L436.05,168.36 L436.20,168.37 L436.35,168.37 L436.50,168.37 L436.65,168.38 L436.80,168.38 L436.95,168.39 L437.10,168.39 L437.25,168.39 L437.40,168.40 L437.55,168.40 L437.70,168.41 L437.85,168.41 L438.00,168.41 L438.15,168.42 L438.30,168.42 L438.45,168.43 L438.60,168.43 L438.75,168.43 L438.90,168.44 L439.05,168.44 L439.20,168.45 L439.35,168.45 L439.50,168.45 L439.65,168.46 L439.80,168.46 L439.95,168.47 L440.10,168.47 L440.25,168.47 L440.40,168.48 L440.55,168.48 L440.70,168.49 L440.85,168.49 L441.00,168.49 L441.15,168.50 L441.30,168.50 L441.45,168.51 L441.60,168.51 L441.75,168.51 L441.90,168.52 L442.05,168.52 L442.20,168.53 L442.35,168.53 L442.50,168.53 L442.65,168.54 L442.80,168.54 L442.95,168.55 L443.10,168.55 L443.25,168.55 L443.40,168.56 L443.55,168.56 L443.70,168.57 L443.85,168.57 L444.00,168.57 L444.15,168.58 L444.30,168.58 L444.45,168.59 L444.60,168.59 L444.75,168.59 L444.90,168.60 L445.05,168.60 L445.20,168.61 L445.35,168.62 L445.50,168.63 L445.65,168.65 L445.80,168.66 L445.95,168.67 L446.10,168.68 L446.25,168.69 L446.40,168.70 L446.55,168.71 L446.70,168.72 L446.85,168.73 L447.00,168.74 L447.15,168.75 L447.30,168.76 L447.45,168.77 L447.60,168.78 L447.75,168.79 L447.90,168.80 L448.05,168.81 L448.20,168.82 L448.35,168.83 L448.50,168.84 L448.65,168.86 L448.80,168.87 L448.95,168.88 L449.10,168.89 L449.25,168.90 L449.40,168.91 L449.55,168.92 L449.70,168.93 L449.85,168.94 L450.00,168.95 L450.15,168.96 L450.30,168.97 L450.45,168.98 L450.60,168.99 L450.75,169.00 L450.90,169.01 L451.05,169.02 L451.20,169.03 L451.35,169.04 L451.50,169.05 L451.65,169.07 L451.80,169.08 L451.95,169.09 L452.10,169.10 L452.25,169.11 L452.40,169.12 L452.55,169.13 L452.70,169.14 L452.85,169.15 L453.00,169.16 L453.15,169.17 L453.30,169.18 L453.45,169.19 L453.60,169.20 L453.75,169.21 L453.90,169.22 L454.05,169.23 L454.20,169.24 L454.35,169.25 L454.50,169.26 L454.65,169.28 L454.80,169.29 L454.95,169.30 L455.10,169.34 L455.25,169.39 L455.40,169.45 L455.55,169.51 L455.70,169.56 L455.85,169.62 L456.00,169.67 L456.15,169.73 L456.30,169.79 L456.45,169.84 L456.60,169.90 L456.75,169.96 L456.90,170.01 L457.05,170.07 L457.20,170.12 L457.35,170.18 L457.50,170.24 L457.65,170.29 L457.80,170.35 L457.95,170.41 L458.10,170.46 L458.25,170.52 L458.40,170.57 L458.55,170.63 L458.70,170.69 L458.85,170.74 L459.00,170.80 L459.15,170.86 L459.30,170.93 L459.45,170.99 L459.60,171.05 L459.75,171.12 L459.90,171.18 L460.05,171.24 L460.20,171.31 L460.35,171.37 L460.50,171.43 L460.65,171.49 L460.80,171.56 L460.95,171.55 L461.10,171.40 L461.25,171.25 L461.40,171.10 L461.55,170.95 L461.70,170.80 L461.85,170.65 L462.00,170.50 L462.15,170.35 L462.30,170.20 L462.45,170.05 L462.60,169.73 L462.75,169.33 L462.90,168.93 L463.05,168.53 L463.20,168.13 L463.35,167.73 L463.50,167.33 L463.65,166.93 L463.80,166.53 L463.95,166.13 L464.10,165.77 L464.25,165.43 L464.40,165.08 L464.55,164.74 L464.70,164.40 L464.85,164.05 L465.00,163.71 L465.15,163.36 L465.30,163.02 L465.45,162.68 L465.60,162.33 L465.75,161.99 L465.90,161.65 L466.05,161.30 L466.20,160.96 L466.35,160.61 L466.50,160.38 L466.65,160.21 L466.80,160.04 L466.95,159.87 L467.10,159.69 L467.25,159.52 L467.40,159.35 L467.55,159.17 L467.70,159.00 L467.85,158.83 L468.00,158.65 L468.15,158.48 L468.30,158.31 L468.45,158.13 L468.60,157.96 L468.75,157.79 L468.90,157.62 L469.05,157.47 L469.20,157.39 L469.35,157.30 L469.50,157.22 L469.65,157.13 L469.80,157.05 L469.95,156.96 L470.10,156.88 L470.25,156.79 L470.40,156.71 L470.55,156.62 L470.70,156.54 L470.85,156.45 L471.00,156.37 L471.15,156.28 L471.30,156.20 L471.45,156.11 L471.60,156.03 L471.75,155.94 L471.90,155.86 L472.05,155.77 L472.20,155.68 L472.35,155.59 L472.50,155.50 L472.65,155.41 L472.80,155.32 L472.95,155.23 L473.10,155.14 L473.25,155.05 L473.40,154.96 L473.55,154.87 L473.70,154.78 L473.85,154.69 L474.00,154.60 L474.15,154.51 L474.30,154.42 L474.45,154.33 L474.60,154.24 L474.75,154.15 L474.90,154.06 L475.05,153.96 L475.20,153.85 L475.35,153.74 L475.50,153.62 L475.65,153.48 L475.80,153.18 L475.95,152.13 L476.10,148.34 L476.25,136.87 L476.40,109.41 L476.55,58.90 L476.70,26.00 L476.85,26.00 L477.00,26.00 L477.15,26.00 L477.30,26.00 L477.45,59.76 L477.60,110.56 L477.75,138.30 L477.90,150.06 L478.05,154.14 L478.20,155.48 L478.35,156.07 L478.50,156.50 L478.65,156.77 L478.80,157.04 L478.95,157.31 L479.10,157.58 L479.25,157.85 L479.40,158.12 L479.55,158.39 L479.70,158.66 L479.85,158.93 L480.00,159.20 L480.15,159.23 L480.30,159.26 L480.45,159.29 L480.60,159.32 L480.75,159.35 L480.90,159.38 L481.05,159.41 L481.20,159.44 L481.35,159.47 L481.50,159.50 L481.65,159.53 L481.80,159.56 L481.95,159.59 L482.10,159.62 L482.25,159.65 L482.40,159.68 L482.55,159.71 L482.70,159.74 L482.85,159.77 L483.00,159.80 L483.15,159.80 L483.30,159.81 L483.45,159.81 L483.60,159.82 L483.75,159.82 L483.90,159.83 L484.05,159.83 L484.20,159.83 L484.35,159.84 L484.50,159.84 L484.65,159.85 L484.80,159.85 L484.95,159.86 L485.10,159.86 L485.25,159.86 L485.40,159.87 L485.55,159.87 L485.70,159.88 L485.85,159.88 L486.00,159.89 L486.15,159.89 L486.30,159.89 L486.45,159.90 L486.60,159.90 L486.75,159.91 L486.90,159.91 L487.05,159.92 L487.20,159.92 L487.35,159.92 L487.50,159.93 L487.65,159.93 L487.80,159.94 L487.95,159.94 L488.10,159.95 L488.25,159.95 L488.40,159.95 L488.55,159.96 L488.70,159.96 L488.85,159.97 L489.00,159.97 L489.15,159.98 L489.30,159.98 L489.45,159.98 L489.60,159.99 L489.75,159.99 L489.90,160.00 L490.05,160.00 L490.20,160.00 L490.35,160.00 L490.50,160.00 L490.65,160.00 L490.80,160.00 L490.95,160.00 L491.10,160.00 L491.25,160.00 L491.40,160.00 L491.55,160.00 L491.70,160.00 L491.85,160.00 L492.00,160.00 L492.15,160.00 L492.30,160.00 L492.45,160.00 L492.60,160.00 L492.75,160.00 L492.90,160.00 L493.05,160.00 L493.20,160.00 L493.35,160.00 L493.50,160.00 L493.65,160.00 L493.80,160.00 L493.95,160.00 L494.10,160.00 L494.25,160.00 L494.40,160.00 L494.55,160.00 L494.70,160.00 L494.85,160.00 L495.00,160.00 L495.15,160.00 L495.30,160.00 L495.45,160.00 L495.60,160.00 L495.75,160.00 L495.90,160.00 L496.05,160.00 L496.20,160.00 L496.35,160.00 L496.50,159.99 L496.65,159.97 L496.80,159.93 L496.95,159.83 L497.10,159.61 L497.25,159.16 L497.40,158.31 L497.55,156.80 L497.70,154.33 L497.85,150.55 L498.00,145.21 L498.15,138.26 L498.30,129.97 L498.45,121.04 L498.60,112.52 L498.75,105.63 L498.90,101.52 L499.05,100.91 L499.20,103.90 L499.35,109.98 L499.50,118.10 L499.65,127.02 L499.80,135.62 L499.95,143.07 L500.10,148.95 L500.25,153.23 L500.40,156.10 L500.55,157.87 L500.70,158.88 L500.85,159.36 L501.00,159.49 L501.15,159.30 L501.30,158.74 L501.45,157.69 L501.60,155.92 L501.75,153.21 L501.90,149.38 L502.05,144.38 L502.20,138.43 L502.35,132.01 L502.50,125.89 L502.65,120.94 L502.80,117.99 L502.95,117.55 L503.10,119.70 L503.25,124.06 L503.40,129.90 L503.55,136.31 L503.70,142.49 L503.85,147.84 L504.00,152.06 L504.15,155.14 L504.30,157.20 L504.45,158.49 L504.60,159.23 L504.75,159.63 L504.90,159.84 L505.05,159.93 L505.20,159.97 L505.35,159.99 L505.50,160.00 L505.65,160.00 L505.80,160.00 L505.95,160.00 L506.10,160.00 L506.25,160.00 L506.40,160.00 L506.55,160.00 L506.70,160.00 L506.85,160.00 L507.00,160.00 L507.15,160.00 L507.30,160.00 L507.45,160.00 L507.60,160.00 L507.75,160.00 L507.90,159.99 L508.05,159.98 L508.20,159.96 L508.35,159.91 L508.50,159.81 L508.65,159.60 L508.80,159.19 L508.95,158.45 L509.10,157.16 L509.25,155.04 L509.40,151.71 L509.55,146.78 L509.70,139.86 L509.85,130.70 L510.00,119.28 L510.15,105.94 L510.30,91.47 L510.45,77.02 L510.60,64.03 L510.75,53.99 L510.90,48.15 L511.05,47.29 L511.20,51.51 L511.35,60.27 L511.50,72.43 L511.65,86.55 L511.80,101.16 L511.95,114.98 L512.10,127.09 L512.25,137.02 L512.40,144.66 L512.55,150.21 L512.70,154.03 L512.85,156.51 L513.00,158.03 L513.15,158.93 L513.30,159.42 L513.45,159.68 L513.60,159.81 L513.75,159.87 L513.90,159.90 L514.05,159.91 L514.20,159.91 L514.35,159.91 L514.50,159.91 L514.65,159.91 L514.80,159.90 L514.95,159.90 L515.10,159.90 L515.25,159.89 L515.40,159.89 L515.55,159.89 L515.70,159.88 L515.85,159.87 L516.00,159.84 L516.15,159.79 L516.30,159.70 L516.45,159.51 L516.60,159.16 L516.75,158.56 L516.90,157.54 L517.05,155.92 L517.20,153.48 L517.35,149.99 L517.50,145.28 L517.65,139.29 L517.80,132.13 L517.95,124.17 L518.10,115.98 L518.25,108.33 L518.40,102.06 L518.55,97.94 L518.70,96.50 L518.85,97.75 L519.00,101.36 L519.15,106.92 L519.30,113.83 L519.45,121.40 L519.60,128.98 L519.75,136.04 L519.90,142.20 L520.05,147.27 L520.20,151.23 L520.35,154.16 L520.50,156.24 L520.65,157.63 L520.80,158.53 L520.95,159.08 L521.10,159.39 L521.25,159.56 L521.40,159.62 L521.55,159.59 L521.70,159.44 L521.85,159.15 L522.00,158.73 L522.15,158.22 L522.30,157.77 L522.45,157.52 L522.60,157.57 L522.75,157.89 L522.90,158.38 L523.05,158.86 L523.20,159.25 L523.35,159.50 L523.50,159.63 L523.65,159.69 L523.80,159.71 L523.95,159.72 L524.10,159.72 L524.25,159.71 L524.40,159.71 L524.55,159.71 L524.70,159.70 L524.85,159.68 L525.00,159.63 L525.15,159.52 L525.30,159.33 L525.45,159.04 L525.60,158.67 L525.75,158.30 L525.90,158.05 L526.05,158.01 L526.20,158.19 L526.35,158.53 L526.50,158.90 L526.65,159.22 L526.80,159.44 L526.95,159.56 L527.10,159.62 L527.25,159.64 L527.40,159.65 L527.55,159.65 L527.70,159.65 L527.85,159.64 L528.00,159.64 L528.15,159.64 L528.30,159.63 L528.45,159.63 L528.60,159.63 L528.75,159.62 L528.90,159.62 L529.05,159.62 L529.20,159.62 L529.35,159.61 L529.50,159.61 L529.65,159.61 L529.80,159.60 L529.95,159.60 L530.10,159.61 L530.25,159.61 L530.40,159.62 L530.55,159.63 L530.70,159.64 L530.85,159.65 L531.00,159.66 L531.15,159.67 L531.30,159.67 L531.45,159.68 L531.60,159.69 L531.75,159.70 L531.90,159.71 L532.05,159.72 L532.20,159.73 L532.35,159.73 L532.50,159.74 L532.65,159.75 L532.80,159.76 L532.95,159.77 L533.10,159.78 L533.25,159.79 L533.40,159.79 L533.55,159.80 L533.70,159.81 L533.85,159.82 L534.00,159.83 L534.15,159.84 L534.30,159.85 L534.45,159.85 L534.60,159.86 L534.75,159.87 L534.90,159.88 L535.05,159.89 L535.20,159.90 L535.35,159.91 L535.50,159.91 L535.65,159.92 L535.80,159.93 L535.95,159.94 L536.10,159.95 L536.25,159.96 L536.40,159.97 L536.55,159.97 L536.70,159.98 L536.85,159.99 L537.00,160.00 L537.15,160.01 L537.30,160.02 L537.45,160.03 L537.60,160.03 L537.75,160.04 L537.90,160.05 L538.05,160.06 L538.20,160.07 L538.35,160.08 L538.50,160.09 L538.65,160.09 L538.80,160.10 L538.95,160.11 L539.10,160.12 L539.25,160.13 L539.40,160.14 L539.55,160.15 L539.70,160.15 L539.85,160.16 L540.00,160.17 L540.15,160.18 L540.30,160.19 L540.45,160.20" fill="none" stroke="#1a1a1a" stroke-width="1.15" stroke-linejoin="round" stroke-linecap="round"/>
<path d="M309.60,321.23 L309.75,321.27 L309.90,321.31 L310.05,321.35 L310.20,321.39 L310.35,321.43 L310.50,321.47 L310.65,321.51 L310.80,321.55 L310.95,321.59 L311.10,321.65 L311.25,321.73 L311.40,321.82 L311.55,321.90 L311.70,321.98 L311.85,322.06 L312.00,322.14 L312.15,322.22 L312.30,322.30 L312.45,322.20 L312.60,322.10 L312.75,322.00 L312.90,321.90 L313.05,321.80 L313.20,321.70 L313.35,321.60 L313.50,321.50 L313.65,321.40 L313.80,321.30 L313.95,321.42 L314.10,321.54 L314.25,321.65 L314.40,321.77 L314.55,321.89 L314.70,322.01 L314.85,322.12 L315.00,322.24 L315.15,322.36 L315.30,322.47 L315.45,322.57 L315.60,322.68 L315.75,322.78 L315.90,322.89 L316.05,322.99 L316.20,323.10 L316.35,323.20 L316.50,323.31 L316.65,323.41 L316.80,323.52 L316.95,323.62 L317.10,323.73 L317.25,323.83 L317.40,323.94 L317.55,324.04 L317.70,324.15 L317.85,324.25 L318.00,324.36 L318.15,324.46 L318.30,324.53 L318.45,324.59 L318.60,324.64 L318.75,324.69 L318.90,324.74 L319.05,324.80 L319.20,324.85 L319.35,324.90 L319.50,324.95 L319.65,325.01 L319.80,325.06 L319.95,325.11 L320.10,325.16 L320.25,325.22 L320.40,325.27 L320.55,325.32 L320.70,325.37 L320.85,325.42 L321.00,325.48 L321.15,325.53 L321.30,325.58 L321.45,325.63 L321.60,325.69 L321.75,325.74 L321.90,325.79 L322.05,325.84 L322.20,325.90 L322.35,325.95 L322.50,326.00 L322.65,326.04 L322.80,326.08 L322.95,326.12 L323.10,326.16 L323.25,326.20 L323.40,326.24 L323.55,326.28 L323.70,326.32 L323.85,326.37 L324.00,326.41 L324.15,326.45 L324.30,326.49 L324.45,326.53 L324.60,326.57 L324.75,326.61 L324.90,326.65 L325.05,326.69 L325.20,326.73 L325.35,326.77 L325.50,326.81 L325.65,326.85 L325.80,326.89 L325.95,326.93 L326.10,326.97 L326.25,327.02 L326.40,327.06 L326.55,327.10 L326.70,327.14 L326.85,327.18 L327.00,327.22 L327.15,327.26 L327.30,327.30 L327.45,327.32 L327.60,327.34 L327.75,327.37 L327.90,327.39 L328.05,327.41 L328.20,327.43 L328.35,327.46 L328.50,327.48 L328.65,327.50 L328.80,327.52 L328.95,327.55 L329.10,327.57 L329.25,327.59 L329.40,327.61 L329.55,327.64 L329.70,327.66 L329.85,327.68 L330.00,327.70 L330.15,327.72 L330.30,327.75 L330.45,327.77 L330.60,327.79 L330.75,327.81 L330.90,327.84 L331.05,327.86 L331.20,327.88 L331.35,327.90 L331.50,327.93 L331.65,327.95 L331.80,327.97 L331.95,327.99 L332.10,328.01 L332.25,328.03 L332.40,328.04 L332.55,328.06 L332.70,328.07 L332.85,328.09 L333.00,328.11 L333.15,328.12 L333.30,328.14 L333.45,328.15 L333.60,328.17 L333.75,328.18 L333.90,328.20 L334.05,328.22 L334.20,328.23 L334.35,328.25 L334.50,328.26 L334.65,328.28 L334.80,328.29 L334.95,328.31 L335.10,328.33 L335.25,328.34 L335.40,328.36 L335.55,328.37 L335.70,328.39 L335.85,328.41 L336.00,328.42 L336.15,328.44 L336.30,328.45 L336.45,328.46 L336.60,328.47 L336.75,328.48 L336.90,328.46 L337.05,328.42 L337.20,328.32 L337.35,328.14 L337.50,327.81 L337.65,327.27 L337.80,326.44 L337.95,325.26 L338.10,323.70 L338.25,321.80 L338.40,319.64 L338.55,317.42 L338.70,315.36 L338.85,313.74 L339.00,312.79 L339.15,312.65 L339.30,313.33 L339.45,314.75 L339.60,316.67 L339.75,318.85 L339.90,321.01 L340.05,322.93 L340.20,324.44 L340.35,325.42 L340.50,325.76 L340.65,325.37 L340.80,324.08 L340.95,321.73 L341.10,318.12 L341.25,313.14 L341.40,306.84 L341.55,299.48 L341.70,291.61 L341.85,284.05 L342.00,277.72 L342.15,273.49 L342.30,272.00 L342.45,273.28 L342.60,276.96 L342.75,282.55 L342.90,289.37 L343.05,296.67 L343.20,303.78 L343.35,310.16 L343.50,315.50 L343.65,319.70 L343.80,322.81 L343.95,324.99 L344.10,326.43 L344.25,327.35 L344.40,327.89 L344.55,328.21 L344.70,328.38 L344.85,328.47 L345.00,328.52 L345.15,328.55 L345.30,328.57 L345.45,328.58 L345.60,328.59 L345.75,328.60 L345.90,328.61 L346.05,328.62 L346.20,328.63 L346.35,328.63 L346.50,328.64 L346.65,328.65 L346.80,328.66 L346.95,328.67 L347.10,328.68 L347.25,328.69 L347.40,328.69 L347.55,328.70 L347.70,328.71 L347.85,328.72 L348.00,328.73 L348.15,328.74 L348.30,328.75 L348.45,328.75 L348.60,328.76 L348.75,328.77 L348.90,328.78 L349.05,328.79 L349.20,328.80 L349.35,328.81 L349.50,328.81 L349.65,328.82 L349.80,328.83 L349.95,328.84 L350.10,328.85 L350.25,328.86 L350.40,328.87 L350.55,328.87 L350.70,328.88 L350.85,328.89 L351.00,328.90 L351.15,328.89 L351.30,328.88 L351.45,328.87 L351.60,328.86 L351.75,328.85 L351.90,328.85 L352.05,328.84 L352.20,328.83 L352.35,328.82 L352.50,328.81 L352.65,328.80 L352.80,328.79 L352.95,328.78 L353.10,328.76 L353.25,328.73 L353.40,328.69 L353.55,328.61 L353.70,328.49 L353.85,328.28 L354.00,327.93 L354.15,327.39 L354.30,326.55 L354.45,325.31 L354.60,323.56 L354.75,321.18 L354.90,318.07 L355.05,314.20 L355.20,309.61 L355.35,304.43 L355.50,298.91 L355.65,293.40 L355.80,288.31 L355.95,284.08 L356.10,281.11 L356.25,279.70 L356.40,279.94 L356.55,281.67 L356.70,284.73 L356.85,288.84 L357.00,293.67 L357.15,298.86 L357.30,304.04 L357.45,308.95 L357.60,313.35 L357.75,317.12 L357.90,320.22 L358.05,322.66 L358.20,324.52 L358.35,325.87 L358.50,326.82 L358.65,327.46 L358.80,327.88 L358.95,328.15 L359.10,328.31 L359.25,328.40 L359.40,328.45 L359.55,328.48 L359.70,328.49 L359.85,328.50 L360.00,328.50 L360.15,328.48 L360.30,328.46 L360.45,328.44 L360.60,328.42 L360.75,328.41 L360.90,328.39 L361.05,328.37 L361.20,328.35 L361.35,328.33 L361.50,328.31 L361.65,328.29 L361.80,328.27 L361.95,328.25 L362.10,328.22 L362.25,328.19 L362.40,328.15 L362.55,328.09 L362.70,328.01 L362.85,327.89 L363.00,327.70 L363.15,327.44 L363.30,327.05 L363.45,326.50 L363.60,325.74 L363.75,324.74 L363.90,323.43 L364.05,321.74 L364.20,319.59 L364.35,317.12 L364.50,314.38 L364.65,311.47 L364.80,308.52 L364.95,305.67 L365.10,303.10 L365.25,300.98 L365.40,299.44 L365.55,298.61 L365.70,298.50 L365.85,298.99 L366.00,300.04 L366.15,301.56 L366.30,303.44 L366.45,305.58 L366.60,307.73 L366.75,309.83 L366.90,311.84 L367.05,313.67 L367.20,315.26 L367.35,316.59 L367.50,317.64 L367.65,318.43 L367.80,318.99 L367.95,319.33 L368.10,319.50 L368.25,319.80 L368.40,319.99 L368.55,320.10 L368.70,320.15 L368.85,320.15 L369.00,320.12 L369.15,320.07 L369.30,320.01 L369.45,319.94 L369.60,319.86 L369.75,319.79 L369.90,319.71 L370.05,319.62 L370.20,319.54 L370.35,319.46 L370.50,319.38 L370.65,319.29 L370.80,319.21 L370.95,319.13 L371.10,319.05 L371.25,318.96 L371.40,318.88 L371.55,318.80 L371.70,318.72 L371.85,318.63 L372.00,318.55 L372.15,318.47 L372.30,318.39 L372.45,318.30 L372.60,318.22 L372.75,318.14 L372.90,318.06 L373.05,317.97 L373.20,317.88 L373.35,317.79 L373.50,317.70 L373.65,317.61 L373.80,317.52 L373.95,317.43 L374.10,317.34 L374.25,317.25 L374.40,317.15 L374.55,317.06 L374.70,316.97 L374.85,316.88 L375.00,316.79 L375.15,316.70 L375.30,316.61 L375.45,316.52 L375.60,316.43 L375.75,316.34 L375.90,316.25 L376.05,316.16 L376.20,316.07 L376.35,315.98 L376.50,315.89 L376.65,315.80 L376.80,315.71 L376.95,315.61 L377.10,315.52 L377.25,315.43 L377.40,315.34 L377.55,315.24 L377.70,315.15 L377.85,315.05 L378.00,314.94 L378.15,314.83 L378.30,314.72 L378.45,314.66 L378.60,314.59 L378.75,314.50 L378.90,314.39 L379.05,314.26 L379.20,314.11 L379.35,313.93 L379.50,313.72 L379.65,313.50 L379.80,313.26 L379.95,313.02 L380.10,312.78 L380.25,312.55 L380.40,312.35 L380.55,312.19 L380.70,312.07 L380.85,312.01 L381.00,312.00 L381.15,312.08 L381.30,312.23 L381.45,312.43 L381.60,312.67 L381.75,312.90 L381.90,313.12 L382.05,313.29 L382.20,313.41 L382.35,313.47 L382.50,313.45 L382.65,313.37 L382.80,313.23 L382.95,313.05 L383.10,312.85 L383.25,312.64 L383.40,312.46 L383.55,312.31 L383.70,312.22 L383.85,312.19 L384.00,312.20 L384.15,312.24 L384.30,312.30 L384.45,312.39 L384.60,312.50 L384.75,312.62 L384.90,312.74 L385.05,312.87 L385.20,313.00 L385.35,313.13 L385.50,313.24 L385.65,313.34 L385.80,313.44 L385.95,313.51 L386.10,313.60 L386.25,313.69 L386.40,313.77 L386.55,313.83 L386.70,313.89 L386.85,313.94 L387.00,313.98 L387.15,314.02 L387.30,314.05 L387.45,314.08 L387.60,314.11 L387.75,314.13 L387.90,314.15 L388.05,314.18 L388.20,314.20 L388.35,314.22 L388.50,314.24 L388.65,314.26 L388.80,314.28 L388.95,314.30 L389.10,314.32 L389.25,314.34 L389.40,314.36 L389.55,314.38 L389.70,314.40 L389.85,314.42 L390.00,314.45 L390.15,314.47 L390.30,314.49 L390.45,314.51 L390.60,314.53 L390.75,314.55 L390.90,314.57 L391.05,314.59 L391.20,314.61 L391.35,314.63 L391.50,314.65 L391.65,314.67 L391.80,314.69 L391.95,314.71 L392.10,314.73 L392.25,314.75 L392.40,314.77 L392.55,314.79 L392.70,314.81 L392.85,314.82 L393.00,314.83 L393.15,314.84 L393.30,314.85 L393.45,314.86 L393.60,314.87 L393.75,314.88 L393.90,314.89 L394.05,314.90 L394.20,314.91 L394.35,314.92 L394.50,314.93 L394.65,314.94 L394.80,314.95 L394.95,314.96 L395.10,314.97 L395.25,314.98 L395.40,314.99 L395.55,315.00 L395.70,315.01 L395.85,315.02 L396.00,315.03 L396.15,315.04 L396.30,315.05 L396.45,315.06 L396.60,315.07 L396.75,315.08 L396.90,315.09 L397.05,315.10 L397.20,315.11 L397.35,315.12 L397.50,315.13 L397.65,315.14 L397.80,315.15 L397.95,315.16 L398.10,315.17 L398.25,315.18 L398.40,315.19 L398.55,315.20 L398.70,315.21 L398.85,315.22 L399.00,315.23 L399.15,315.24 L399.30,315.25 L399.45,315.26 L399.60,315.27 L399.75,315.28 L399.90,315.29 L400.05,315.30 L400.20,315.31 L400.35,315.31 L400.50,315.32 L400.65,315.32 L400.80,315.33 L400.95,315.33 L401.10,315.34 L401.25,315.34 L401.40,315.35 L401.55,315.35 L401.70,315.36 L401.85,315.36 L402.00,315.37 L402.15,315.38 L402.30,315.38 L402.45,315.39 L402.60,315.39 L402.75,315.40 L402.90,315.40 L403.05,315.41 L403.20,315.41 L403.35,315.42 L403.50,315.42 L403.65,315.43 L403.80,315.43 L403.95,315.44 L404.10,315.44 L404.25,315.45 L404.40,315.45 L404.55,315.46 L404.70,315.46 L404.85,315.47 L405.00,315.47 L405.15,315.48 L405.30,315.49 L405.45,315.49 L405.60,315.50 L405.75,315.50 L405.90,315.51 L406.05,315.51 L406.20,315.52 L406.35,315.52 L406.50,315.53 L406.65,315.53 L406.80,315.54 L406.95,315.54 L407.10,315.55 L407.25,315.55 L407.40,315.56 L407.55,315.56 L407.70,315.57 L407.85,315.57 L408.00,315.58 L408.15,315.59 L408.30,315.59 L408.45,315.60 L408.60,315.60 L408.75,315.61 L408.90,315.61 L409.05,315.62 L409.20,315.62 L409.35,315.63 L409.50,315.63 L409.65,315.64 L409.80,315.64 L409.95,315.65 L410.10,315.65 L410.25,315.66 L410.40,315.66 L410.55,315.67 L410.70,315.67 L410.85,315.68 L411.00,315.68 L411.15,315.69 L411.30,315.70 L411.45,315.70 L411.60,315.71 L411.75,315.71 L411.90,315.72 L412.05,315.72 L412.20,315.73 L412.35,315.73 L412.50,315.74 L412.65,315.74 L412.80,315.75 L412.95,315.75 L413.10,315.76 L413.25,315.76 L413.40,315.77 L413.55,315.77 L413.70,315.78 L413.85,315.78 L414.00,315.79 L414.15,315.80 L414.30,315.80 L414.45,315.81 L414.60,315.81 L414.75,315.82 L414.90,315.82 L415.05,315.83 L415.20,315.83 L415.35,315.84 L415.50,315.84 L415.65,315.85 L415.80,315.85 L415.95,315.86 L416.10,315.86 L416.25,315.87 L416.40,315.87 L416.55,315.88 L416.70,315.88 L416.85,315.89 L417.00,315.89 L417.15,315.90 L417.30,315.91 L417.45,315.91 L417.60,315.92 L417.75,315.92 L417.90,315.93 L418.05,315.93 L418.20,315.94 L418.35,315.94 L418.50,315.95 L418.65,315.95 L418.80,315.96 L418.95,315.96 L419.10,315.97 L419.25,315.97 L419.40,315.98 L419.55,315.98 L419.70,315.99 L419.85,315.99 L420.00,316.00 L420.15,316.01 L420.30,316.01 L420.45,316.02 L420.60,316.02 L420.75,316.03 L420.90,316.03 L421.05,316.04 L421.20,316.04 L421.35,316.05 L421.50,316.05 L421.65,316.06 L421.80,316.06 L421.95,316.07 L422.10,316.07 L422.25,316.08 L422.40,316.08 L422.55,316.09 L422.70,316.09 L422.85,316.10 L423.00,316.10 L423.15,316.11 L423.30,316.11 L423.45,316.12 L423.60,316.12 L423.75,316.13 L423.90,316.13 L424.05,316.14 L424.20,316.14 L424.35,316.15 L424.50,316.16 L424.65,316.16 L424.80,316.17 L424.95,316.17 L425.10,316.18 L425.25,316.18 L425.40,316.19 L425.55,316.19 L425.70,316.20 L425.85,316.20 L426.00,316.21 L426.15,316.21 L426.30,316.22 L426.45,316.22 L426.60,316.23 L426.75,316.23 L426.90,316.24 L427.05,316.24 L427.20,316.25 L427.35,316.25 L427.50,316.26 L427.65,316.26 L427.80,316.27 L427.95,316.27 L428.10,316.28 L428.25,316.28 L428.40,316.29 L428.55,316.29 L428.70,316.30 L428.85,316.31 L429.00,316.31 L429.15,316.32 L429.30,316.32 L429.45,316.33 L429.60,316.33 L429.75,316.34 L429.90,316.34 L430.05,316.35 L430.20,316.35 L430.35,316.36 L430.50,316.36 L430.65,316.37 L430.80,316.37 L430.95,316.38 L431.10,316.38 L431.25,316.39 L431.40,316.39 L431.55,316.40 L431.70,316.40 L431.85,316.41 L432.00,316.41 L432.15,316.42 L432.30,316.42 L432.45,316.43 L432.60,316.43 L432.75,316.44 L432.90,316.44 L433.05,316.45 L433.20,316.46 L433.35,316.46 L433.50,316.47 L433.65,316.47 L433.80,316.48 L433.95,316.48 L434.10,316.49 L434.25,316.49 L434.40,316.50 L434.55,316.50 L434.70,316.51 L434.85,316.51 L435.00,316.52 L435.15,316.52 L435.30,316.53 L435.45,316.53 L435.60,316.54 L435.75,316.54 L435.90,316.55 L436.05,316.55 L436.20,316.56 L436.35,316.56 L436.50,316.57 L436.65,316.57 L436.80,316.58 L436.95,316.58 L437.10,316.59 L437.25,316.59 L437.40,316.60 L437.55,316.61 L437.70,316.61 L437.85,316.62 L438.00,316.62 L438.15,316.63 L438.30,316.63 L438.45,316.64 L438.60,316.64 L438.75,316.65 L438.90,316.65 L439.05,316.66 L439.20,316.66 L439.35,316.67 L439.50,316.67 L439.65,316.68 L439.80,316.68 L439.95,316.69 L440.10,316.69 L440.25,316.70 L440.40,316.70 L440.55,316.71 L440.70,316.71 L440.85,316.72 L441.00,316.72 L441.15,316.73 L441.30,316.73 L441.45,316.74 L441.60,316.74 L441.75,316.75 L441.90,316.76 L442.05,316.76 L442.20,316.77 L442.35,316.77 L442.50,316.78 L442.65,316.78 L442.80,316.79 L442.95,316.79 L443.10,316.80 L443.25,316.80 L443.40,316.81 L443.55,316.81 L443.70,316.82 L443.85,316.82 L444.00,316.83 L444.15,316.83 L444.30,316.84 L444.45,316.84 L444.60,316.85 L444.75,316.85 L444.90,316.86 L445.05,316.86 L445.20,316.87 L445.35,316.87 L445.50,316.88 L445.65,316.88 L445.80,316.89 L445.95,316.89 L446.10,316.90 L446.25,316.91 L446.40,316.91 L446.55,316.92 L446.70,316.92 L446.85,316.93 L447.00,316.93 L447.15,316.94 L447.30,316.94 L447.45,316.95 L447.60,316.95 L447.75,316.96 L447.90,316.96 L448.05,316.97 L448.20,316.97 L448.35,316.98 L448.50,316.98 L448.65,316.99 L448.80,316.99 L448.95,317.00 L449.10,317.00 L449.25,317.01 L449.40,317.02 L449.55,317.02 L449.70,317.03 L449.85,317.04 L450.00,317.04 L450.15,317.05 L450.30,317.06 L450.45,317.06 L450.60,317.07 L450.75,317.08 L450.90,317.08 L451.05,317.09 L451.20,317.10 L451.35,317.10 L451.50,317.11 L451.65,317.12 L451.80,317.12 L451.95,317.13 L452.10,317.14 L452.25,317.14 L452.40,317.15 L452.55,317.16 L452.70,317.16 L452.85,317.17 L453.00,317.18 L453.15,317.18 L453.30,317.19 L453.45,317.20 L453.60,317.20 L453.75,317.21 L453.90,317.21 L454.05,317.22 L454.20,317.23 L454.35,317.23 L454.50,317.24 L454.65,317.25 L454.80,317.25 L454.95,317.26 L455.10,317.27 L455.25,317.27 L455.40,317.28 L455.55,317.29 L455.70,317.29 L455.85,317.30 L456.00,317.31 L456.15,317.31 L456.30,317.32 L456.45,317.33 L456.60,317.33 L456.75,317.34 L456.90,317.35 L457.05,317.35 L457.20,317.36 L457.35,317.37 L457.50,317.37 L457.65,317.38 L457.80,317.39 L457.95,317.39 L458.10,317.40 L458.25,317.41 L458.40,317.41 L458.55,317.42 L458.70,317.43 L458.85,317.43 L459.00,317.44 L459.15,317.45 L459.30,317.45 L459.45,317.46 L459.60,317.46 L459.75,317.47 L459.90,317.48 L460.05,317.48 L460.20,317.49 L460.35,317.50 L460.50,317.94 L460.65,318.59 L460.80,319.25 L460.95,319.91 L461.10,320.56 L461.25,321.33 L461.40,322.33 L461.55,323.33 L461.70,324.33 L461.85,325.23 L462.00,325.92 L462.15,326.61 L462.30,327.30 L462.45,326.98 L462.60,326.65 L462.75,326.33 L462.90,326.00 L463.05,323.50 L463.20,321.00 L463.35,318.50 L463.50,316.00 L463.65,313.86 L463.80,311.71 L463.95,309.57 L464.10,307.43 L464.25,305.62 L464.40,304.49 L464.55,303.36 L464.70,302.22 L464.85,301.09 L465.00,299.96 L465.15,298.91 L465.30,298.03 L465.45,297.15 L465.60,296.27 L465.75,295.39 L465.90,294.51 L466.05,293.64 L466.20,292.76 L466.35,291.88 L466.50,291.00 L466.65,290.38 L466.80,289.76 L466.95,289.14 L467.10,288.53 L467.25,287.91 L467.40,287.29 L467.55,286.67 L467.70,286.05 L467.85,285.43 L468.00,284.81 L468.15,284.12 L468.30,283.28 L468.45,282.44 L468.60,281.60 L468.75,280.76 L468.90,279.92 L469.05,279.08 L469.20,278.24 L469.35,277.40 L469.50,276.56 L469.65,275.71 L469.80,274.86 L469.95,274.00 L470.10,273.14 L470.25,272.29 L470.40,271.43 L470.55,270.57 L470.70,269.71 L470.85,268.86 L471.00,268.00 L471.15,267.27 L471.30,266.54 L471.45,265.81 L471.60,265.08 L471.75,264.35 L471.90,263.62 L472.05,262.89 L472.20,262.16 L472.35,261.43 L472.50,260.70 L472.65,260.04 L472.80,259.38 L472.95,258.73 L473.10,258.07 L473.25,257.41 L473.40,256.75 L473.55,256.10 L473.70,255.44 L473.85,254.72 L474.00,253.89 L474.15,253.06 L474.30,252.23 L474.45,251.40 L474.60,250.56 L474.75,249.73 L474.90,248.90 L475.05,247.75 L475.20,246.60 L475.35,245.45 L475.50,244.30 L475.65,243.15 L475.80,242.00 L475.95,240.03 L476.10,238.05 L476.25,236.08 L476.40,234.10 L476.55,229.87 L476.70,225.64 L476.85,221.41 L477.00,216.15 L477.15,210.38 L477.30,204.60 L477.45,198.30 L477.60,192.00 L477.75,185.40 L477.90,181.50 L478.05,181.50 L478.20,181.50 L478.35,192.60 L478.50,210.00 L478.65,228.00 L478.80,239.33 L478.95,247.33 L479.10,253.57 L479.25,258.92 L479.40,261.10 L479.55,261.70 L479.70,262.30 L479.85,262.90 L480.00,263.50 L480.15,263.68 L480.30,263.86 L480.45,264.05 L480.60,264.23 L480.75,264.41 L480.90,264.59 L481.05,264.77 L481.20,264.96 L481.35,265.14 L481.50,265.27 L481.65,265.37 L481.80,265.48 L481.95,265.58 L482.10,265.69 L482.25,265.79 L482.40,265.90 L482.55,266.00 L482.70,266.11 L482.85,266.21 L483.00,266.32 L483.15,266.42 L483.30,266.53 L483.45,266.63 L483.60,266.74 L483.75,266.84 L483.90,266.95 L484.05,267.05 L484.20,267.16 L484.35,267.26 L484.50,267.34 L484.65,267.40 L484.80,267.45 L484.95,267.51 L485.10,267.57 L485.25,267.63 L485.40,267.68 L485.55,267.74 L485.70,267.80 L485.85,267.86 L486.00,267.91 L486.15,267.97 L486.30,268.03 L486.45,268.09 L486.60,268.14 L486.75,268.20 L486.90,268.26 L487.05,268.31 L487.20,268.37 L487.35,268.43 L487.50,268.49 L487.65,268.54 L487.80,268.60 L487.95,268.66 L488.10,268.72 L488.25,268.77 L488.40,268.83 L488.55,268.89 L488.70,268.95 L488.85,269.00 L489.00,269.06 L489.15,269.11 L489.30,269.13 L489.45,269.16 L489.60,269.19 L489.75,269.21 L489.90,269.24 L490.05,269.26 L490.20,269.29 L490.35,269.32 L490.50,269.34 L490.65,269.37 L490.80,269.39 L490.95,269.42 L491.10,269.44 L491.25,269.47 L491.40,269.50 L491.55,269.52 L491.70,269.55 L491.85,269.57 L492.00,269.60 L492.15,269.57 L492.30,269.54 L492.45,269.51 L492.60,269.48 L492.75,269.45 L492.90,269.42 L493.05,269.39 L493.20,269.36 L493.35,269.33 L493.50,269.30 L493.65,269.27 L493.80,269.24 L493.95,269.21 L494.10,269.18 L494.25,269.15 L494.40,269.12 L494.55,269.09 L494.70,269.06 L494.85,269.03 L495.00,269.00 L495.15,269.11 L495.30,269.22 L495.45,269.33 L495.60,269.43 L495.75,269.54 L495.90,269.65 L496.05,269.76 L496.20,269.87 L496.35,269.98 L496.50,270.09 L496.65,270.19 L496.80,270.30 L496.95,270.41 L497.10,270.52 L497.25,270.63 L497.40,270.74 L497.55,270.85 L497.70,270.96 L497.85,271.06 L498.00,271.10 L498.15,271.10 L498.30,271.10 L498.45,271.10 L498.60,271.10 L498.75,271.10 L498.90,271.10 L499.05,271.10 L499.20,271.10 L499.35,271.10 L499.50,271.10 L499.65,271.10 L499.80,271.10 L499.95,271.10 L500.10,271.09 L500.25,271.07 L500.40,270.99 L500.55,270.77 L500.70,270.19 L500.85,268.84 L501.00,266.10 L501.15,261.17 L501.30,253.47 L501.45,243.10 L501.60,231.29 L501.75,220.45 L501.90,213.44 L502.05,212.36 L502.20,217.56 L502.35,227.43 L502.50,239.22 L502.65,250.28 L502.80,258.93 L502.95,264.73 L503.10,268.15 L503.25,269.92 L503.40,270.75 L503.55,271.10 L503.70,271.25 L503.85,271.33 L504.00,271.38 L504.15,271.42 L504.30,271.47 L504.45,271.51 L504.60,271.55 L504.75,271.60 L504.90,271.64 L505.05,271.68 L505.20,271.72 L505.35,271.77 L505.50,271.81 L505.65,271.85 L505.80,271.89 L505.95,271.93 L506.10,271.98 L506.25,272.02 L506.40,272.06 L506.55,272.10 L506.70,272.15 L506.85,272.19 L507.00,272.23 L507.15,272.27 L507.30,272.32 L507.45,272.36 L507.60,272.40 L507.75,272.44 L507.90,272.49 L508.05,272.53 L508.20,272.57 L508.35,272.60 L508.50,272.60 L508.65,272.60 L508.80,272.60 L508.95,272.60 L509.10,272.60 L509.25,272.60 L509.40,272.60 L509.55,272.60 L509.70,272.60 L509.85,272.59 L510.00,272.55 L510.15,272.47 L510.30,272.27 L510.45,271.89 L510.60,271.27 L510.75,270.42 L510.90,269.51 L511.05,268.78 L511.20,268.50 L511.35,268.78 L511.50,269.51 L511.65,270.42 L511.80,271.27 L511.95,271.89 L512.10,272.27 L512.25,272.47 L512.40,272.55 L512.55,272.59 L512.70,272.60 L512.85,272.60 L513.00,272.60 L513.15,272.60 L513.30,272.60 L513.45,272.58 L513.60,272.54 L513.75,272.44 L513.90,272.19 L514.05,271.72 L514.20,270.94 L514.35,269.89 L514.50,268.75 L514.65,267.85 L514.80,267.50 L514.95,267.85 L515.10,268.75 L515.25,269.89 L515.40,270.94 L515.55,271.72 L515.70,272.19 L515.85,272.44 L516.00,272.54 L516.15,272.58 L516.30,272.60 L516.45,272.60 L516.60,272.60 L516.75,272.61 L516.90,272.63 L517.05,272.64 L517.20,272.66 L517.35,272.67 L517.50,272.69 L517.65,272.70 L517.80,272.71 L517.95,272.73 L518.10,272.74 L518.25,272.76 L518.40,272.77 L518.55,272.79 L518.70,272.80 L518.85,272.82 L519.00,272.83 L519.15,272.84 L519.30,272.86 L519.45,272.87 L519.60,272.89 L519.75,272.90 L519.90,272.92 L520.05,272.93 L520.20,272.94 L520.35,272.96 L520.50,272.97 L520.65,272.99 L520.80,273.00 L520.95,273.02 L521.10,273.03 L521.25,273.05 L521.40,273.06 L521.55,273.07 L521.70,273.09 L521.85,273.10 L522.00,273.12 L522.15,273.13 L522.30,273.15 L522.45,273.16 L522.60,273.17 L522.75,273.19 L522.90,273.20 L523.05,273.22 L523.20,273.23 L523.35,273.25 L523.50,273.26 L523.65,273.27 L523.80,273.29 L523.95,273.30 L524.10,273.32 L524.25,273.33 L524.40,273.35 L524.55,273.36 L524.70,273.38 L524.85,273.39 L525.00,273.40 L525.15,273.42 L525.30,273.43 L525.45,273.45 L525.60,273.46 L525.75,273.48 L525.90,273.49 L526.05,273.49 L526.20,273.45 L526.35,273.41 L526.50,273.37 L526.65,273.32 L526.80,273.28 L526.95,273.24 L527.10,273.20 L527.25,273.16 L527.40,273.12 L527.55,273.08 L527.70,273.04 L527.85,273.00 L528.00,272.96 L528.15,272.92 L528.30,272.88 L528.45,272.84 L528.60,272.80 L528.75,272.76 L528.90,272.72 L529.05,272.68 L529.20,272.64 L529.35,272.60 L529.50,272.56 L529.65,272.52 L529.80,272.48 L529.95,272.43 L530.10,272.39 L530.25,272.35 L530.40,272.31 L530.55,272.27 L530.70,272.23 L530.85,272.19 L531.00,272.15 L531.15,272.11 L531.30,272.07 L531.45,272.03 L531.60,271.99 L531.75,271.95 L531.90,271.91 L532.05,271.87 L532.20,271.83 L532.35,271.79 L532.50,271.75 L532.65,271.71 L532.80,271.67 L532.95,271.63 L533.10,271.59 L533.25,271.54 L533.40,271.50 L533.55,271.46 L533.70,271.42 L533.85,271.38 L534.00,271.34 L534.15,271.30 L534.30,271.26 L534.45,271.22 L534.60,271.18 L534.75,271.14 L534.90,271.10 L535.05,271.12 L535.20,271.15 L535.35,271.17 L535.50,271.19 L535.65,271.21 L535.80,271.23 L535.95,271.25 L536.10,271.24 L536.25,271.17 L536.40,271.00 L536.55,270.63 L536.70,270.02 L536.85,269.18 L537.00,268.28 L537.15,267.56 L537.30,267.30 L537.45,267.61 L537.60,268.37 L537.75,269.32 L537.90,270.21 L538.05,270.86 L538.20,271.27 L538.35,271.49 L538.50,271.60 L538.65,271.66 L538.80,271.69 L538.95,271.72 L539.10,271.74 L539.25,271.76 L539.40,271.79 L539.55,271.81 L539.70,271.83 L539.85,271.86 L540.00,271.88 L540.15,271.90 L540.30,271.92 L540.45,271.95 L540.60,271.97 L540.75,271.99" fill="none" stroke="#fdeef4" stroke-width="5" stroke-linejoin="round" stroke-linecap="round" opacity="0.9"/>
<path d="M309.60,321.23 L309.75,321.27 L309.90,321.31 L310.05,321.35 L310.20,321.39 L310.35,321.43 L310.50,321.47 L310.65,321.51 L310.80,321.55 L310.95,321.59 L311.10,321.65 L311.25,321.73 L311.40,321.82 L311.55,321.90 L311.70,321.98 L311.85,322.06 L312.00,322.14 L312.15,322.22 L312.30,322.30 L312.45,322.20 L312.60,322.10 L312.75,322.00 L312.90,321.90 L313.05,321.80 L313.20,321.70 L313.35,321.60 L313.50,321.50 L313.65,321.40 L313.80,321.30 L313.95,321.42 L314.10,321.54 L314.25,321.65 L314.40,321.77 L314.55,321.89 L314.70,322.01 L314.85,322.12 L315.00,322.24 L315.15,322.36 L315.30,322.47 L315.45,322.57 L315.60,322.68 L315.75,322.78 L315.90,322.89 L316.05,322.99 L316.20,323.10 L316.35,323.20 L316.50,323.31 L316.65,323.41 L316.80,323.52 L316.95,323.62 L317.10,323.73 L317.25,323.83 L317.40,323.94 L317.55,324.04 L317.70,324.15 L317.85,324.25 L318.00,324.36 L318.15,324.46 L318.30,324.53 L318.45,324.59 L318.60,324.64 L318.75,324.69 L318.90,324.74 L319.05,324.80 L319.20,324.85 L319.35,324.90 L319.50,324.95 L319.65,325.01 L319.80,325.06 L319.95,325.11 L320.10,325.16 L320.25,325.22 L320.40,325.27 L320.55,325.32 L320.70,325.37 L320.85,325.42 L321.00,325.48 L321.15,325.53 L321.30,325.58 L321.45,325.63 L321.60,325.69 L321.75,325.74 L321.90,325.79 L322.05,325.84 L322.20,325.90 L322.35,325.95 L322.50,326.00 L322.65,326.04 L322.80,326.08 L322.95,326.12 L323.10,326.16 L323.25,326.20 L323.40,326.24 L323.55,326.28 L323.70,326.32 L323.85,326.37 L324.00,326.41 L324.15,326.45 L324.30,326.49 L324.45,326.53 L324.60,326.57 L324.75,326.61 L324.90,326.65 L325.05,326.69 L325.20,326.73 L325.35,326.77 L325.50,326.81 L325.65,326.85 L325.80,326.89 L325.95,326.93 L326.10,326.97 L326.25,327.02 L326.40,327.06 L326.55,327.10 L326.70,327.14 L326.85,327.18 L327.00,327.22 L327.15,327.26 L327.30,327.30 L327.45,327.32 L327.60,327.34 L327.75,327.37 L327.90,327.39 L328.05,327.41 L328.20,327.43 L328.35,327.46 L328.50,327.48 L328.65,327.50 L328.80,327.52 L328.95,327.55 L329.10,327.57 L329.25,327.59 L329.40,327.61 L329.55,327.64 L329.70,327.66 L329.85,327.68 L330.00,327.70 L330.15,327.72 L330.30,327.75 L330.45,327.77 L330.60,327.79 L330.75,327.81 L330.90,327.84 L331.05,327.86 L331.20,327.88 L331.35,327.90 L331.50,327.93 L331.65,327.95 L331.80,327.97 L331.95,327.99 L332.10,328.01 L332.25,328.03 L332.40,328.04 L332.55,328.06 L332.70,328.07 L332.85,328.09 L333.00,328.11 L333.15,328.12 L333.30,328.14 L333.45,328.15 L333.60,328.17 L333.75,328.18 L333.90,328.20 L334.05,328.22 L334.20,328.23 L334.35,328.25 L334.50,328.26 L334.65,328.28 L334.80,328.29 L334.95,328.31 L335.10,328.33 L335.25,328.34 L335.40,328.36 L335.55,328.37 L335.70,328.39 L335.85,328.41 L336.00,328.42 L336.15,328.44 L336.30,328.45 L336.45,328.46 L336.60,328.47 L336.75,328.48 L336.90,328.46 L337.05,328.42 L337.20,328.32 L337.35,328.14 L337.50,327.81 L337.65,327.27 L337.80,326.44 L337.95,325.26 L338.10,323.70 L338.25,321.80 L338.40,319.64 L338.55,317.42 L338.70,315.36 L338.85,313.74 L339.00,312.79 L339.15,312.65 L339.30,313.33 L339.45,314.75 L339.60,316.67 L339.75,318.85 L339.90,321.01 L340.05,322.93 L340.20,324.44 L340.35,325.42 L340.50,325.76 L340.65,325.37 L340.80,324.08 L340.95,321.73 L341.10,318.12 L341.25,313.14 L341.40,306.84 L341.55,299.48 L341.70,291.61 L341.85,284.05 L342.00,277.72 L342.15,273.49 L342.30,272.00 L342.45,273.28 L342.60,276.96 L342.75,282.55 L342.90,289.37 L343.05,296.67 L343.20,303.78 L343.35,310.16 L343.50,315.50 L343.65,319.70 L343.80,322.81 L343.95,324.99 L344.10,326.43 L344.25,327.35 L344.40,327.89 L344.55,328.21 L344.70,328.38 L344.85,328.47 L345.00,328.52 L345.15,328.55 L345.30,328.57 L345.45,328.58 L345.60,328.59 L345.75,328.60 L345.90,328.61 L346.05,328.62 L346.20,328.63 L346.35,328.63 L346.50,328.64 L346.65,328.65 L346.80,328.66 L346.95,328.67 L347.10,328.68 L347.25,328.69 L347.40,328.69 L347.55,328.70 L347.70,328.71 L347.85,328.72 L348.00,328.73 L348.15,328.74 L348.30,328.75 L348.45,328.75 L348.60,328.76 L348.75,328.77 L348.90,328.78 L349.05,328.79 L349.20,328.80 L349.35,328.81 L349.50,328.81 L349.65,328.82 L349.80,328.83 L349.95,328.84 L350.10,328.85 L350.25,328.86 L350.40,328.87 L350.55,328.87 L350.70,328.88 L350.85,328.89 L351.00,328.90 L351.15,328.89 L351.30,328.88 L351.45,328.87 L351.60,328.86 L351.75,328.85 L351.90,328.85 L352.05,328.84 L352.20,328.83 L352.35,328.82 L352.50,328.81 L352.65,328.80 L352.80,328.79 L352.95,328.78 L353.10,328.76 L353.25,328.73 L353.40,328.69 L353.55,328.61 L353.70,328.49 L353.85,328.28 L354.00,327.93 L354.15,327.39 L354.30,326.55 L354.45,325.31 L354.60,323.56 L354.75,321.18 L354.90,318.07 L355.05,314.20 L355.20,309.61 L355.35,304.43 L355.50,298.91 L355.65,293.40 L355.80,288.31 L355.95,284.08 L356.10,281.11 L356.25,279.70 L356.40,279.94 L356.55,281.67 L356.70,284.73 L356.85,288.84 L357.00,293.67 L357.15,298.86 L357.30,304.04 L357.45,308.95 L357.60,313.35 L357.75,317.12 L357.90,320.22 L358.05,322.66 L358.20,324.52 L358.35,325.87 L358.50,326.82 L358.65,327.46 L358.80,327.88 L358.95,328.15 L359.10,328.31 L359.25,328.40 L359.40,328.45 L359.55,328.48 L359.70,328.49 L359.85,328.50 L360.00,328.50 L360.15,328.48 L360.30,328.46 L360.45,328.44 L360.60,328.42 L360.75,328.41 L360.90,328.39 L361.05,328.37 L361.20,328.35 L361.35,328.33 L361.50,328.31 L361.65,328.29 L361.80,328.27 L361.95,328.25 L362.10,328.22 L362.25,328.19 L362.40,328.15 L362.55,328.09 L362.70,328.01 L362.85,327.89 L363.00,327.70 L363.15,327.44 L363.30,327.05 L363.45,326.50 L363.60,325.74 L363.75,324.74 L363.90,323.43 L364.05,321.74 L364.20,319.59 L364.35,317.12 L364.50,314.38 L364.65,311.47 L364.80,308.52 L364.95,305.67 L365.10,303.10 L365.25,300.98 L365.40,299.44 L365.55,298.61 L365.70,298.50 L365.85,298.99 L366.00,300.04 L366.15,301.56 L366.30,303.44 L366.45,305.58 L366.60,307.73 L366.75,309.83 L366.90,311.84 L367.05,313.67 L367.20,315.26 L367.35,316.59 L367.50,317.64 L367.65,318.43 L367.80,318.99 L367.95,319.33 L368.10,319.50 L368.25,319.80 L368.40,319.99 L368.55,320.10 L368.70,320.15 L368.85,320.15 L369.00,320.12 L369.15,320.07 L369.30,320.01 L369.45,319.94 L369.60,319.86 L369.75,319.79 L369.90,319.71 L370.05,319.62 L370.20,319.54 L370.35,319.46 L370.50,319.38 L370.65,319.29 L370.80,319.21 L370.95,319.13 L371.10,319.05 L371.25,318.96 L371.40,318.88 L371.55,318.80 L371.70,318.72 L371.85,318.63 L372.00,318.55 L372.15,318.47 L372.30,318.39 L372.45,318.30 L372.60,318.22 L372.75,318.14 L372.90,318.06 L373.05,317.97 L373.20,317.88 L373.35,317.79 L373.50,317.70 L373.65,317.61 L373.80,317.52 L373.95,317.43 L374.10,317.34 L374.25,317.25 L374.40,317.15 L374.55,317.06 L374.70,316.97 L374.85,316.88 L375.00,316.79 L375.15,316.70 L375.30,316.61 L375.45,316.52 L375.60,316.43 L375.75,316.34 L375.90,316.25 L376.05,316.16 L376.20,316.07 L376.35,315.98 L376.50,315.89 L376.65,315.80 L376.80,315.71 L376.95,315.61 L377.10,315.52 L377.25,315.43 L377.40,315.34 L377.55,315.24 L377.70,315.15 L377.85,315.05 L378.00,314.94 L378.15,314.83 L378.30,314.72 L378.45,314.66 L378.60,314.59 L378.75,314.50 L378.90,314.39 L379.05,314.26 L379.20,314.11 L379.35,313.93 L379.50,313.72 L379.65,313.50 L379.80,313.26 L379.95,313.02 L380.10,312.78 L380.25,312.55 L380.40,312.35 L380.55,312.19 L380.70,312.07 L380.85,312.01 L381.00,312.00 L381.15,312.08 L381.30,312.23 L381.45,312.43 L381.60,312.67 L381.75,312.90 L381.90,313.12 L382.05,313.29 L382.20,313.41 L382.35,313.47 L382.50,313.45 L382.65,313.37 L382.80,313.23 L382.95,313.05 L383.10,312.85 L383.25,312.64 L383.40,312.46 L383.55,312.31 L383.70,312.22 L383.85,312.19 L384.00,312.20 L384.15,312.24 L384.30,312.30 L384.45,312.39 L384.60,312.50 L384.75,312.62 L384.90,312.74 L385.05,312.87 L385.20,313.00 L385.35,313.13 L385.50,313.24 L385.65,313.34 L385.80,313.44 L385.95,313.51 L386.10,313.60 L386.25,313.69 L386.40,313.77 L386.55,313.83 L386.70,313.89 L386.85,313.94 L387.00,313.98 L387.15,314.02 L387.30,314.05 L387.45,314.08 L387.60,314.11 L387.75,314.13 L387.90,314.15 L388.05,314.18 L388.20,314.20 L388.35,314.22 L388.50,314.24 L388.65,314.26 L388.80,314.28 L388.95,314.30 L389.10,314.32 L389.25,314.34 L389.40,314.36 L389.55,314.38 L389.70,314.40 L389.85,314.42 L390.00,314.45 L390.15,314.47 L390.30,314.49 L390.45,314.51 L390.60,314.53 L390.75,314.55 L390.90,314.57 L391.05,314.59 L391.20,314.61 L391.35,314.63 L391.50,314.65 L391.65,314.67 L391.80,314.69 L391.95,314.71 L392.10,314.73 L392.25,314.75 L392.40,314.77 L392.55,314.79 L392.70,314.81 L392.85,314.82 L393.00,314.83 L393.15,314.84 L393.30,314.85 L393.45,314.86 L393.60,314.87 L393.75,314.88 L393.90,314.89 L394.05,314.90 L394.20,314.91 L394.35,314.92 L394.50,314.93 L394.65,314.94 L394.80,314.95 L394.95,314.96 L395.10,314.97 L395.25,314.98 L395.40,314.99 L395.55,315.00 L395.70,315.01 L395.85,315.02 L396.00,315.03 L396.15,315.04 L396.30,315.05 L396.45,315.06 L396.60,315.07 L396.75,315.08 L396.90,315.09 L397.05,315.10 L397.20,315.11 L397.35,315.12 L397.50,315.13 L397.65,315.14 L397.80,315.15 L397.95,315.16 L398.10,315.17 L398.25,315.18 L398.40,315.19 L398.55,315.20 L398.70,315.21 L398.85,315.22 L399.00,315.23 L399.15,315.24 L399.30,315.25 L399.45,315.26 L399.60,315.27 L399.75,315.28 L399.90,315.29 L400.05,315.30 L400.20,315.31 L400.35,315.31 L400.50,315.32 L400.65,315.32 L400.80,315.33 L400.95,315.33 L401.10,315.34 L401.25,315.34 L401.40,315.35 L401.55,315.35 L401.70,315.36 L401.85,315.36 L402.00,315.37 L402.15,315.38 L402.30,315.38 L402.45,315.39 L402.60,315.39 L402.75,315.40 L402.90,315.40 L403.05,315.41 L403.20,315.41 L403.35,315.42 L403.50,315.42 L403.65,315.43 L403.80,315.43 L403.95,315.44 L404.10,315.44 L404.25,315.45 L404.40,315.45 L404.55,315.46 L404.70,315.46 L404.85,315.47 L405.00,315.47 L405.15,315.48 L405.30,315.49 L405.45,315.49 L405.60,315.50 L405.75,315.50 L405.90,315.51 L406.05,315.51 L406.20,315.52 L406.35,315.52 L406.50,315.53 L406.65,315.53 L406.80,315.54 L406.95,315.54 L407.10,315.55 L407.25,315.55 L407.40,315.56 L407.55,315.56 L407.70,315.57 L407.85,315.57 L408.00,315.58 L408.15,315.59 L408.30,315.59 L408.45,315.60 L408.60,315.60 L408.75,315.61 L408.90,315.61 L409.05,315.62 L409.20,315.62 L409.35,315.63 L409.50,315.63 L409.65,315.64 L409.80,315.64 L409.95,315.65 L410.10,315.65 L410.25,315.66 L410.40,315.66 L410.55,315.67 L410.70,315.67 L410.85,315.68 L411.00,315.68 L411.15,315.69 L411.30,315.70 L411.45,315.70 L411.60,315.71 L411.75,315.71 L411.90,315.72 L412.05,315.72 L412.20,315.73 L412.35,315.73 L412.50,315.74 L412.65,315.74 L412.80,315.75 L412.95,315.75 L413.10,315.76 L413.25,315.76 L413.40,315.77 L413.55,315.77 L413.70,315.78 L413.85,315.78 L414.00,315.79 L414.15,315.80 L414.30,315.80 L414.45,315.81 L414.60,315.81 L414.75,315.82 L414.90,315.82 L415.05,315.83 L415.20,315.83 L415.35,315.84 L415.50,315.84 L415.65,315.85 L415.80,315.85 L415.95,315.86 L416.10,315.86 L416.25,315.87 L416.40,315.87 L416.55,315.88 L416.70,315.88 L416.85,315.89 L417.00,315.89 L417.15,315.90 L417.30,315.91 L417.45,315.91 L417.60,315.92 L417.75,315.92 L417.90,315.93 L418.05,315.93 L418.20,315.94 L418.35,315.94 L418.50,315.95 L418.65,315.95 L418.80,315.96 L418.95,315.96 L419.10,315.97 L419.25,315.97 L419.40,315.98 L419.55,315.98 L419.70,315.99 L419.85,315.99 L420.00,316.00 L420.15,316.01 L420.30,316.01 L420.45,316.02 L420.60,316.02 L420.75,316.03 L420.90,316.03 L421.05,316.04 L421.20,316.04 L421.35,316.05 L421.50,316.05 L421.65,316.06 L421.80,316.06 L421.95,316.07 L422.10,316.07 L422.25,316.08 L422.40,316.08 L422.55,316.09 L422.70,316.09 L422.85,316.10 L423.00,316.10 L423.15,316.11 L423.30,316.11 L423.45,316.12 L423.60,316.12 L423.75,316.13 L423.90,316.13 L424.05,316.14 L424.20,316.14 L424.35,316.15 L424.50,316.16 L424.65,316.16 L424.80,316.17 L424.95,316.17 L425.10,316.18 L425.25,316.18 L425.40,316.19 L425.55,316.19 L425.70,316.20 L425.85,316.20 L426.00,316.21 L426.15,316.21 L426.30,316.22 L426.45,316.22 L426.60,316.23 L426.75,316.23 L426.90,316.24 L427.05,316.24 L427.20,316.25 L427.35,316.25 L427.50,316.26 L427.65,316.26 L427.80,316.27 L427.95,316.27 L428.10,316.28 L428.25,316.28 L428.40,316.29 L428.55,316.29 L428.70,316.30 L428.85,316.31 L429.00,316.31 L429.15,316.32 L429.30,316.32 L429.45,316.33 L429.60,316.33 L429.75,316.34 L429.90,316.34 L430.05,316.35 L430.20,316.35 L430.35,316.36 L430.50,316.36 L430.65,316.37 L430.80,316.37 L430.95,316.38 L431.10,316.38 L431.25,316.39 L431.40,316.39 L431.55,316.40 L431.70,316.40 L431.85,316.41 L432.00,316.41 L432.15,316.42 L432.30,316.42 L432.45,316.43 L432.60,316.43 L432.75,316.44 L432.90,316.44 L433.05,316.45 L433.20,316.46 L433.35,316.46 L433.50,316.47 L433.65,316.47 L433.80,316.48 L433.95,316.48 L434.10,316.49 L434.25,316.49 L434.40,316.50 L434.55,316.50 L434.70,316.51 L434.85,316.51 L435.00,316.52 L435.15,316.52 L435.30,316.53 L435.45,316.53 L435.60,316.54 L435.75,316.54 L435.90,316.55 L436.05,316.55 L436.20,316.56 L436.35,316.56 L436.50,316.57 L436.65,316.57 L436.80,316.58 L436.95,316.58 L437.10,316.59 L437.25,316.59 L437.40,316.60 L437.55,316.61 L437.70,316.61 L437.85,316.62 L438.00,316.62 L438.15,316.63 L438.30,316.63 L438.45,316.64 L438.60,316.64 L438.75,316.65 L438.90,316.65 L439.05,316.66 L439.20,316.66 L439.35,316.67 L439.50,316.67 L439.65,316.68 L439.80,316.68 L439.95,316.69 L440.10,316.69 L440.25,316.70 L440.40,316.70 L440.55,316.71 L440.70,316.71 L440.85,316.72 L441.00,316.72 L441.15,316.73 L441.30,316.73 L441.45,316.74 L441.60,316.74 L441.75,316.75 L441.90,316.76 L442.05,316.76 L442.20,316.77 L442.35,316.77 L442.50,316.78 L442.65,316.78 L442.80,316.79 L442.95,316.79 L443.10,316.80 L443.25,316.80 L443.40,316.81 L443.55,316.81 L443.70,316.82 L443.85,316.82 L444.00,316.83 L444.15,316.83 L444.30,316.84 L444.45,316.84 L444.60,316.85 L444.75,316.85 L444.90,316.86 L445.05,316.86 L445.20,316.87 L445.35,316.87 L445.50,316.88 L445.65,316.88 L445.80,316.89 L445.95,316.89 L446.10,316.90 L446.25,316.91 L446.40,316.91 L446.55,316.92 L446.70,316.92 L446.85,316.93 L447.00,316.93 L447.15,316.94 L447.30,316.94 L447.45,316.95 L447.60,316.95 L447.75,316.96 L447.90,316.96 L448.05,316.97 L448.20,316.97 L448.35,316.98 L448.50,316.98 L448.65,316.99 L448.80,316.99 L448.95,317.00 L449.10,317.00 L449.25,317.01 L449.40,317.02 L449.55,317.02 L449.70,317.03 L449.85,317.04 L450.00,317.04 L450.15,317.05 L450.30,317.06 L450.45,317.06 L450.60,317.07 L450.75,317.08 L450.90,317.08 L451.05,317.09 L451.20,317.10 L451.35,317.10 L451.50,317.11 L451.65,317.12 L451.80,317.12 L451.95,317.13 L452.10,317.14 L452.25,317.14 L452.40,317.15 L452.55,317.16 L452.70,317.16 L452.85,317.17 L453.00,317.18 L453.15,317.18 L453.30,317.19 L453.45,317.20 L453.60,317.20 L453.75,317.21 L453.90,317.21 L454.05,317.22 L454.20,317.23 L454.35,317.23 L454.50,317.24 L454.65,317.25 L454.80,317.25 L454.95,317.26 L455.10,317.27 L455.25,317.27 L455.40,317.28 L455.55,317.29 L455.70,317.29 L455.85,317.30 L456.00,317.31 L456.15,317.31 L456.30,317.32 L456.45,317.33 L456.60,317.33 L456.75,317.34 L456.90,317.35 L457.05,317.35 L457.20,317.36 L457.35,317.37 L457.50,317.37 L457.65,317.38 L457.80,317.39 L457.95,317.39 L458.10,317.40 L458.25,317.41 L458.40,317.41 L458.55,317.42 L458.70,317.43 L458.85,317.43 L459.00,317.44 L459.15,317.45 L459.30,317.45 L459.45,317.46 L459.60,317.46 L459.75,317.47 L459.90,317.48 L460.05,317.48 L460.20,317.49 L460.35,317.50 L460.50,317.94 L460.65,318.59 L460.80,319.25 L460.95,319.91 L461.10,320.56 L461.25,321.33 L461.40,322.33 L461.55,323.33 L461.70,324.33 L461.85,325.23 L462.00,325.92 L462.15,326.61 L462.30,327.30 L462.45,326.98 L462.60,326.65 L462.75,326.33 L462.90,326.00 L463.05,323.50 L463.20,321.00 L463.35,318.50 L463.50,316.00 L463.65,313.86 L463.80,311.71 L463.95,309.57 L464.10,307.43 L464.25,305.62 L464.40,304.49 L464.55,303.36 L464.70,302.22 L464.85,301.09 L465.00,299.96 L465.15,298.91 L465.30,298.03 L465.45,297.15 L465.60,296.27 L465.75,295.39 L465.90,294.51 L466.05,293.64 L466.20,292.76 L466.35,291.88 L466.50,291.00 L466.65,290.38 L466.80,289.76 L466.95,289.14 L467.10,288.53 L467.25,287.91 L467.40,287.29 L467.55,286.67 L467.70,286.05 L467.85,285.43 L468.00,284.81 L468.15,284.12 L468.30,283.28 L468.45,282.44 L468.60,281.60 L468.75,280.76 L468.90,279.92 L469.05,279.08 L469.20,278.24 L469.35,277.40 L469.50,276.56 L469.65,275.71 L469.80,274.86 L469.95,274.00 L470.10,273.14 L470.25,272.29 L470.40,271.43 L470.55,270.57 L470.70,269.71 L470.85,268.86 L471.00,268.00 L471.15,267.27 L471.30,266.54 L471.45,265.81 L471.60,265.08 L471.75,264.35 L471.90,263.62 L472.05,262.89 L472.20,262.16 L472.35,261.43 L472.50,260.70 L472.65,260.04 L472.80,259.38 L472.95,258.73 L473.10,258.07 L473.25,257.41 L473.40,256.75 L473.55,256.10 L473.70,255.44 L473.85,254.72 L474.00,253.89 L474.15,253.06 L474.30,252.23 L474.45,251.40 L474.60,250.56 L474.75,249.73 L474.90,248.90 L475.05,247.75 L475.20,246.60 L475.35,245.45 L475.50,244.30 L475.65,243.15 L475.80,242.00 L475.95,240.03 L476.10,238.05 L476.25,236.08 L476.40,234.10 L476.55,229.87 L476.70,225.64 L476.85,221.41 L477.00,216.15 L477.15,210.38 L477.30,204.60 L477.45,198.30 L477.60,192.00 L477.75,185.40 L477.90,181.50 L478.05,181.50 L478.20,181.50 L478.35,192.60 L478.50,210.00 L478.65,228.00 L478.80,239.33 L478.95,247.33 L479.10,253.57 L479.25,258.92 L479.40,261.10 L479.55,261.70 L479.70,262.30 L479.85,262.90 L480.00,263.50 L480.15,263.68 L480.30,263.86 L480.45,264.05 L480.60,264.23 L480.75,264.41 L480.90,264.59 L481.05,264.77 L481.20,264.96 L481.35,265.14 L481.50,265.27 L481.65,265.37 L481.80,265.48 L481.95,265.58 L482.10,265.69 L482.25,265.79 L482.40,265.90 L482.55,266.00 L482.70,266.11 L482.85,266.21 L483.00,266.32 L483.15,266.42 L483.30,266.53 L483.45,266.63 L483.60,266.74 L483.75,266.84 L483.90,266.95 L484.05,267.05 L484.20,267.16 L484.35,267.26 L484.50,267.34 L484.65,267.40 L484.80,267.45 L484.95,267.51 L485.10,267.57 L485.25,267.63 L485.40,267.68 L485.55,267.74 L485.70,267.80 L485.85,267.86 L486.00,267.91 L486.15,267.97 L486.30,268.03 L486.45,268.09 L486.60,268.14 L486.75,268.20 L486.90,268.26 L487.05,268.31 L487.20,268.37 L487.35,268.43 L487.50,268.49 L487.65,268.54 L487.80,268.60 L487.95,268.66 L488.10,268.72 L488.25,268.77 L488.40,268.83 L488.55,268.89 L488.70,268.95 L488.85,269.00 L489.00,269.06 L489.15,269.11 L489.30,269.13 L489.45,269.16 L489.60,269.19 L489.75,269.21 L489.90,269.24 L490.05,269.26 L490.20,269.29 L490.35,269.32 L490.50,269.34 L490.65,269.37 L490.80,269.39 L490.95,269.42 L491.10,269.44 L491.25,269.47 L491.40,269.50 L491.55,269.52 L491.70,269.55 L491.85,269.57 L492.00,269.60 L492.15,269.57 L492.30,269.54 L492.45,269.51 L492.60,269.48 L492.75,269.45 L492.90,269.42 L493.05,269.39 L493.20,269.36 L493.35,269.33 L493.50,269.30 L493.65,269.27 L493.80,269.24 L493.95,269.21 L494.10,269.18 L494.25,269.15 L494.40,269.12 L494.55,269.09 L494.70,269.06 L494.85,269.03 L495.00,269.00 L495.15,269.11 L495.30,269.22 L495.45,269.33 L495.60,269.43 L495.75,269.54 L495.90,269.65 L496.05,269.76 L496.20,269.87 L496.35,269.98 L496.50,270.09 L496.65,270.19 L496.80,270.30 L496.95,270.41 L497.10,270.52 L497.25,270.63 L497.40,270.74 L497.55,270.85 L497.70,270.96 L497.85,271.06 L498.00,271.10 L498.15,271.10 L498.30,271.10 L498.45,271.10 L498.60,271.10 L498.75,271.10 L498.90,271.10 L499.05,271.10 L499.20,271.10 L499.35,271.10 L499.50,271.10 L499.65,271.10 L499.80,271.10 L499.95,271.10 L500.10,271.09 L500.25,271.07 L500.40,270.99 L500.55,270.77 L500.70,270.19 L500.85,268.84 L501.00,266.10 L501.15,261.17 L501.30,253.47 L501.45,243.10 L501.60,231.29 L501.75,220.45 L501.90,213.44 L502.05,212.36 L502.20,217.56 L502.35,227.43 L502.50,239.22 L502.65,250.28 L502.80,258.93 L502.95,264.73 L503.10,268.15 L503.25,269.92 L503.40,270.75 L503.55,271.10 L503.70,271.25 L503.85,271.33 L504.00,271.38 L504.15,271.42 L504.30,271.47 L504.45,271.51 L504.60,271.55 L504.75,271.60 L504.90,271.64 L505.05,271.68 L505.20,271.72 L505.35,271.77 L505.50,271.81 L505.65,271.85 L505.80,271.89 L505.95,271.93 L506.10,271.98 L506.25,272.02 L506.40,272.06 L506.55,272.10 L506.70,272.15 L506.85,272.19 L507.00,272.23 L507.15,272.27 L507.30,272.32 L507.45,272.36 L507.60,272.40 L507.75,272.44 L507.90,272.49 L508.05,272.53 L508.20,272.57 L508.35,272.60 L508.50,272.60 L508.65,272.60 L508.80,272.60 L508.95,272.60 L509.10,272.60 L509.25,272.60 L509.40,272.60 L509.55,272.60 L509.70,272.60 L509.85,272.59 L510.00,272.55 L510.15,272.47 L510.30,272.27 L510.45,271.89 L510.60,271.27 L510.75,270.42 L510.90,269.51 L511.05,268.78 L511.20,268.50 L511.35,268.78 L511.50,269.51 L511.65,270.42 L511.80,271.27 L511.95,271.89 L512.10,272.27 L512.25,272.47 L512.40,272.55 L512.55,272.59 L512.70,272.60 L512.85,272.60 L513.00,272.60 L513.15,272.60 L513.30,272.60 L513.45,272.58 L513.60,272.54 L513.75,272.44 L513.90,272.19 L514.05,271.72 L514.20,270.94 L514.35,269.89 L514.50,268.75 L514.65,267.85 L514.80,267.50 L514.95,267.85 L515.10,268.75 L515.25,269.89 L515.40,270.94 L515.55,271.72 L515.70,272.19 L515.85,272.44 L516.00,272.54 L516.15,272.58 L516.30,272.60 L516.45,272.60 L516.60,272.60 L516.75,272.61 L516.90,272.63 L517.05,272.64 L517.20,272.66 L517.35,272.67 L517.50,272.69 L517.65,272.70 L517.80,272.71 L517.95,272.73 L518.10,272.74 L518.25,272.76 L518.40,272.77 L518.55,272.79 L518.70,272.80 L518.85,272.82 L519.00,272.83 L519.15,272.84 L519.30,272.86 L519.45,272.87 L519.60,272.89 L519.75,272.90 L519.90,272.92 L520.05,272.93 L520.20,272.94 L520.35,272.96 L520.50,272.97 L520.65,272.99 L520.80,273.00 L520.95,273.02 L521.10,273.03 L521.25,273.05 L521.40,273.06 L521.55,273.07 L521.70,273.09 L521.85,273.10 L522.00,273.12 L522.15,273.13 L522.30,273.15 L522.45,273.16 L522.60,273.17 L522.75,273.19 L522.90,273.20 L523.05,273.22 L523.20,273.23 L523.35,273.25 L523.50,273.26 L523.65,273.27 L523.80,273.29 L523.95,273.30 L524.10,273.32 L524.25,273.33 L524.40,273.35 L524.55,273.36 L524.70,273.38 L524.85,273.39 L525.00,273.40 L525.15,273.42 L525.30,273.43 L525.45,273.45 L525.60,273.46 L525.75,273.48 L525.90,273.49 L526.05,273.49 L526.20,273.45 L526.35,273.41 L526.50,273.37 L526.65,273.32 L526.80,273.28 L526.95,273.24 L527.10,273.20 L527.25,273.16 L527.40,273.12 L527.55,273.08 L527.70,273.04 L527.85,273.00 L528.00,272.96 L528.15,272.92 L528.30,272.88 L528.45,272.84 L528.60,272.80 L528.75,272.76 L528.90,272.72 L529.05,272.68 L529.20,272.64 L529.35,272.60 L529.50,272.56 L529.65,272.52 L529.80,272.48 L529.95,272.43 L530.10,272.39 L530.25,272.35 L530.40,272.31 L530.55,272.27 L530.70,272.23 L530.85,272.19 L531.00,272.15 L531.15,272.11 L531.30,272.07 L531.45,272.03 L531.60,271.99 L531.75,271.95 L531.90,271.91 L532.05,271.87 L532.20,271.83 L532.35,271.79 L532.50,271.75 L532.65,271.71 L532.80,271.67 L532.95,271.63 L533.10,271.59 L533.25,271.54 L533.40,271.50 L533.55,271.46 L533.70,271.42 L533.85,271.38 L534.00,271.34 L534.15,271.30 L534.30,271.26 L534.45,271.22 L534.60,271.18 L534.75,271.14 L534.90,271.10 L535.05,271.12 L535.20,271.15 L535.35,271.17 L535.50,271.19 L535.65,271.21 L535.80,271.23 L535.95,271.25 L536.10,271.24 L536.25,271.17 L536.40,271.00 L536.55,270.63 L536.70,270.02 L536.85,269.18 L537.00,268.28 L537.15,267.56 L537.30,267.30 L537.45,267.61 L537.60,268.37 L537.75,269.32 L537.90,270.21 L538.05,270.86 L538.20,271.27 L538.35,271.49 L538.50,271.60 L538.65,271.66 L538.80,271.69 L538.95,271.72 L539.10,271.74 L539.25,271.76 L539.40,271.79 L539.55,271.81 L539.70,271.83 L539.85,271.86 L540.00,271.88 L540.15,271.90 L540.30,271.92 L540.45,271.95 L540.60,271.97 L540.75,271.99" fill="none" stroke="#8e5c46" stroke-width="1.05" stroke-linejoin="round" stroke-linecap="round"/>
<text x="316.68" y="74.50" font-size="6.3" text-anchor="start" font-weight="bold" fill="#000" transform="rotate(-90 316.68 74.50)" textLength="13.00" lengthAdjust="spacingAndGlyphs">-Fuc</text>
<text x="340.78" y="93.20" font-size="6.3" text-anchor="start" font-weight="bold" fill="#000" transform="rotate(-90 340.78 93.20)" textLength="13.60" lengthAdjust="spacingAndGlyphs">-Rha</text>
<text x="344.88" y="81.20" font-size="6.3" text-anchor="start" font-weight="bold" fill="#000" transform="rotate(-90 344.88 81.20)" textLength="12.60" lengthAdjust="spacingAndGlyphs">-Ara</text>
<text x="357.78" y="89.00" font-size="6.3" text-anchor="start" font-weight="bold" fill="#000" transform="rotate(-90 357.78 89.00)" textLength="12.00" lengthAdjust="spacingAndGlyphs">-Gal</text>
<text x="367.58" y="103.70" font-size="6.3" text-anchor="start" font-weight="bold" fill="#000" transform="rotate(-90 367.58 103.70)" textLength="11.50" lengthAdjust="spacingAndGlyphs">-Glc</text>
<text x="382.48" y="119.20" font-size="6.3" text-anchor="start" font-weight="bold" fill="#000" transform="rotate(-90 382.48 119.20)" textLength="13.50" lengthAdjust="spacingAndGlyphs">-Xyl</text>
<text x="386.48" y="127.00" font-size="6.3" text-anchor="start" font-weight="bold" fill="#000" transform="rotate(-90 386.48 127.00)" textLength="13.50" lengthAdjust="spacingAndGlyphs">-Man</text>
<text x="404.08" y="153.20" font-size="6.3" text-anchor="start" font-weight="bold" fill="#000" transform="rotate(-90 404.08 153.20)" textLength="12.40" lengthAdjust="spacingAndGlyphs">-Fru</text>
<text x="417.28" y="141.80" font-size="6.3" text-anchor="start" font-weight="bold" fill="#000" transform="rotate(-90 417.28 141.80)" textLength="10.80" lengthAdjust="spacingAndGlyphs">-Rib</text>
<text x="501.18" y="100.30" font-size="6.3" text-anchor="start" font-weight="bold" fill="#000" transform="rotate(-90 501.18 100.30)" textLength="25.50" lengthAdjust="spacingAndGlyphs">-Gal-UA</text>
<text x="505.18" y="116.80" font-size="6.3" text-anchor="start" font-weight="bold" fill="#000" transform="rotate(-90 505.18 116.80)" textLength="24.70" lengthAdjust="spacingAndGlyphs">-Gul-UA</text>
<text x="513.08" y="44.90" font-size="6.3" text-anchor="start" font-weight="bold" fill="#000" transform="rotate(-90 513.08 44.90)" textLength="23.10" lengthAdjust="spacingAndGlyphs">-Glc-UA</text>
<text x="520.38" y="94.00" font-size="6.3" text-anchor="start" font-weight="bold" fill="#000" transform="rotate(-90 520.38 94.00)" textLength="25.60" lengthAdjust="spacingAndGlyphs">-Man-UA</text>
<text x="339.78" y="311.50" font-size="6.3" text-anchor="start" font-weight="bold" fill="#000" transform="rotate(-90 339.78 311.50)" textLength="13.50" lengthAdjust="spacingAndGlyphs">-Rha</text>
<text x="344.28" y="269.50" font-size="6.3" text-anchor="start" font-weight="bold" fill="#000" transform="rotate(-90 344.28 269.50)" textLength="13.30" lengthAdjust="spacingAndGlyphs">-Ara</text>
<text x="357.78" y="278.50" font-size="6.3" text-anchor="start" font-weight="bold" fill="#000" transform="rotate(-90 357.78 278.50)" textLength="12.70" lengthAdjust="spacingAndGlyphs">-Gal</text>
<text x="367.68" y="296.60" font-size="6.3" text-anchor="start" font-weight="bold" fill="#000" transform="rotate(-90 367.68 296.60)" textLength="11.00" lengthAdjust="spacingAndGlyphs">-Glc</text>
<text x="382.08" y="310.30" font-size="6.3" text-anchor="start" font-weight="bold" fill="#000" transform="rotate(-90 382.08 310.30)" textLength="10.60" lengthAdjust="spacingAndGlyphs">-Xyl</text>
<text x="386.28" y="310.30" font-size="6.3" text-anchor="start" font-weight="bold" fill="#000" transform="rotate(-90 386.28 310.30)" textLength="13.40" lengthAdjust="spacingAndGlyphs">-Man</text>
<text x="503.88" y="208.80" font-size="6.3" text-anchor="start" font-weight="bold" fill="#000" transform="rotate(-90 503.88 208.80)" textLength="22.90" lengthAdjust="spacingAndGlyphs">-Gal-UA</text>
<text x="9.80" y="364.80" font-size="9" text-anchor="start" font-weight="bold" fill="#000" textLength="12.60" lengthAdjust="spacingAndGlyphs">(C)</text>
<line x1="28.30" y1="375.40" x2="278.60" y2="375.40" stroke="#000" stroke-width="1.25"/>
<line x1="32.90" y1="375.40" x2="32.90" y2="544.70" stroke="#000" stroke-width="1.55"/>
<line x1="277.90" y1="374.80" x2="277.90" y2="544.00" stroke="#000" stroke-width="1.45"/>
<line x1="32.20" y1="544.00" x2="278.60" y2="544.00" stroke="#000" stroke-width="1.2"/>
<line x1="28.30" y1="544.00" x2="32.90" y2="544.00" stroke="#000" stroke-width="1.1"/>
<text x="26.10" y="546.20" font-size="6.3" text-anchor="end" font-weight="bold" fill="#000" textLength="7.90" lengthAdjust="spacingAndGlyphs">0.0</text>
<line x1="29.90" y1="529.95" x2="32.90" y2="529.95" stroke="#000" stroke-width="1"/>
<line x1="28.30" y1="515.90" x2="32.90" y2="515.90" stroke="#000" stroke-width="1.1"/>
<text x="26.10" y="518.10" font-size="6.3" text-anchor="end" font-weight="bold" fill="#000" textLength="7.90" lengthAdjust="spacingAndGlyphs">0.2</text>
<line x1="29.90" y1="501.85" x2="32.90" y2="501.85" stroke="#000" stroke-width="1"/>
<line x1="28.30" y1="487.80" x2="32.90" y2="487.80" stroke="#000" stroke-width="1.1"/>
<text x="26.10" y="490.00" font-size="6.3" text-anchor="end" font-weight="bold" fill="#000" textLength="7.90" lengthAdjust="spacingAndGlyphs">0.4</text>
<line x1="29.90" y1="473.75" x2="32.90" y2="473.75" stroke="#000" stroke-width="1"/>
<line x1="28.30" y1="459.70" x2="32.90" y2="459.70" stroke="#000" stroke-width="1.1"/>
<text x="26.10" y="461.90" font-size="6.3" text-anchor="end" font-weight="bold" fill="#000" textLength="7.90" lengthAdjust="spacingAndGlyphs">0.6</text>
<line x1="29.90" y1="445.65" x2="32.90" y2="445.65" stroke="#000" stroke-width="1"/>
<line x1="28.30" y1="431.60" x2="32.90" y2="431.60" stroke="#000" stroke-width="1.1"/>
<text x="26.10" y="433.80" font-size="6.3" text-anchor="end" font-weight="bold" fill="#000" textLength="7.90" lengthAdjust="spacingAndGlyphs">0.8</text>
<line x1="29.90" y1="417.55" x2="32.90" y2="417.55" stroke="#000" stroke-width="1"/>
<line x1="28.30" y1="403.50" x2="32.90" y2="403.50" stroke="#000" stroke-width="1.1"/>
<text x="26.10" y="405.70" font-size="6.3" text-anchor="end" font-weight="bold" fill="#000" textLength="7.90" lengthAdjust="spacingAndGlyphs">1.0</text>
<line x1="29.90" y1="389.45" x2="32.90" y2="389.45" stroke="#000" stroke-width="1"/>
<line x1="28.30" y1="375.40" x2="32.90" y2="375.40" stroke="#000" stroke-width="1.1"/>
<text x="26.10" y="377.60" font-size="6.3" text-anchor="end" font-weight="bold" fill="#000" textLength="7.90" lengthAdjust="spacingAndGlyphs">1.2</text>
<line x1="32.90" y1="544.00" x2="32.90" y2="548.60" stroke="#000" stroke-width="1.1"/>
<text x="32.90" y="557.80" font-size="6.8" text-anchor="middle" font-weight="bold" fill="#000" textLength="6.80" lengthAdjust="spacingAndGlyphs">20</text>
<line x1="49.23" y1="544.00" x2="49.23" y2="546.50" stroke="#000" stroke-width="1"/>
<line x1="65.57" y1="544.00" x2="65.57" y2="546.50" stroke="#000" stroke-width="1"/>
<line x1="81.90" y1="544.00" x2="81.90" y2="546.50" stroke="#000" stroke-width="1"/>
<line x1="98.23" y1="544.00" x2="98.23" y2="546.50" stroke="#000" stroke-width="1"/>
<line x1="114.56" y1="544.00" x2="114.56" y2="548.60" stroke="#000" stroke-width="1.1"/>
<text x="114.56" y="557.80" font-size="6.8" text-anchor="middle" font-weight="bold" fill="#000" textLength="6.80" lengthAdjust="spacingAndGlyphs">25</text>
<line x1="130.90" y1="544.00" x2="130.90" y2="546.50" stroke="#000" stroke-width="1"/>
<line x1="147.23" y1="544.00" x2="147.23" y2="546.50" stroke="#000" stroke-width="1"/>
<line x1="163.56" y1="544.00" x2="163.56" y2="546.50" stroke="#000" stroke-width="1"/>
<line x1="179.90" y1="544.00" x2="179.90" y2="546.50" stroke="#000" stroke-width="1"/>
<line x1="196.23" y1="544.00" x2="196.23" y2="548.60" stroke="#000" stroke-width="1.1"/>
<text x="196.23" y="557.80" font-size="6.8" text-anchor="middle" font-weight="bold" fill="#000" textLength="6.80" lengthAdjust="spacingAndGlyphs">30</text>
<line x1="212.56" y1="544.00" x2="212.56" y2="546.50" stroke="#000" stroke-width="1"/>
<line x1="228.90" y1="544.00" x2="228.90" y2="546.50" stroke="#000" stroke-width="1"/>
<line x1="245.23" y1="544.00" x2="245.23" y2="546.50" stroke="#000" stroke-width="1"/>
<line x1="261.56" y1="544.00" x2="261.56" y2="546.50" stroke="#000" stroke-width="1"/>
<line x1="277.89" y1="544.00" x2="277.89" y2="548.60" stroke="#000" stroke-width="1.1"/>
<text x="277.89" y="557.80" font-size="6.8" text-anchor="middle" font-weight="bold" fill="#000" textLength="6.80" lengthAdjust="spacingAndGlyphs">35</text>
<text x="113.60" y="569.20" font-size="10.2" text-anchor="start" font-weight="bold" fill="#000" textLength="78.60" lengthAdjust="spacingAndGlyphs">Retention time(min)</text>
<text x="14.90" y="459.30" font-size="9.8" text-anchor="start" font-weight="bold" fill="#000" transform="rotate(-90 14.90 459.30)" textLength="9.10" lengthAdjust="spacingAndGlyphs">RI</text>
<text x="143.70" y="450.40" font-size="6.9" text-anchor="middle" font-weight="bold" fill="#000" textLength="18.50" lengthAdjust="spacingAndGlyphs">26.966</text>
<text x="244.80" y="398.20" font-size="6.9" text-anchor="middle" font-weight="bold" fill="#000" textLength="19.60" lengthAdjust="spacingAndGlyphs">32.935</text>
<path d="M33.10,543.70 C33.75,543.58 35.73,543.32 37.00,543.00 C38.27,542.68 39.37,542.30 40.70,541.80 C42.03,541.30 43.30,540.85 45.00,540.00 C46.70,539.15 49.07,537.95 50.90,536.70 C52.73,535.45 54.30,533.98 56.00,532.50 C57.70,531.02 59.60,529.30 61.10,527.80 C62.60,526.30 63.73,524.98 65.00,523.50 C66.27,522.02 67.45,520.68 68.70,518.90 C69.95,517.12 71.22,514.92 72.50,512.80 C73.78,510.68 75.12,508.40 76.40,506.20 C77.68,504.00 78.93,501.73 80.20,499.60 C81.47,497.47 82.73,495.37 84.00,493.40 C85.27,491.43 86.53,489.48 87.80,487.80 C89.07,486.12 90.32,484.80 91.60,483.30 C92.88,481.80 94.22,480.17 95.50,478.80 C96.78,477.43 98.05,476.23 99.30,475.10 C100.55,473.97 101.73,472.97 103.00,472.00 C104.27,471.03 105.62,470.07 106.90,469.30 C108.18,468.53 109.43,467.92 110.70,467.40 C111.97,466.88 113.03,466.57 114.50,466.20 C115.97,465.83 117.80,465.53 119.50,465.20 C121.20,464.87 123.20,464.53 124.70,464.20 C126.20,463.87 127.23,463.55 128.50,463.20 C129.77,462.85 131.05,462.55 132.30,462.10 C133.55,461.65 134.72,461.08 136.00,460.50 C137.28,459.92 138.50,459.08 140.00,458.60 C141.50,458.12 143.58,457.62 145.00,457.60 C146.42,457.58 147.32,457.95 148.50,458.50 C149.68,459.05 150.92,459.95 152.10,460.90 C153.28,461.85 154.42,463.02 155.60,464.20 C156.78,465.38 158.00,466.73 159.20,468.00 C160.40,469.27 161.62,470.60 162.80,471.80 C163.98,473.00 164.97,474.13 166.30,475.20 C167.63,476.27 169.30,477.32 170.80,478.20 C172.30,479.08 173.68,479.83 175.30,480.50 C176.92,481.17 178.72,481.83 180.50,482.20 C182.28,482.57 184.33,482.72 186.00,482.70 C187.67,482.68 189.02,482.47 190.50,482.10 C191.98,481.73 193.40,481.13 194.90,480.50 C196.40,479.87 198.02,479.18 199.50,478.30 C200.98,477.42 202.47,476.50 203.80,475.20 C205.13,473.90 206.32,472.28 207.50,470.50 C208.68,468.72 209.73,466.75 210.90,464.50 C212.07,462.25 213.32,459.68 214.50,457.00 C215.68,454.32 216.82,451.32 218.00,448.40 C219.18,445.48 220.40,442.47 221.60,439.50 C222.80,436.53 224.02,433.48 225.20,430.60 C226.38,427.72 227.52,424.87 228.70,422.20 C229.88,419.53 231.12,416.83 232.30,414.60 C233.48,412.37 234.62,410.47 235.80,408.80 C236.98,407.13 238.42,405.50 239.40,404.60 C240.38,403.70 240.92,403.63 241.70,403.40 C242.48,403.17 243.28,403.10 244.10,403.20 C244.92,403.30 245.77,403.58 246.60,404.00 C247.43,404.42 248.15,404.70 249.10,405.70 C250.05,406.70 251.23,408.23 252.30,410.00 C253.37,411.77 254.38,413.55 255.50,416.30 C256.62,419.05 257.82,422.93 259.00,426.50 C260.18,430.07 261.42,434.03 262.60,437.70 C263.78,441.37 264.92,444.93 266.10,448.50 C267.28,452.07 268.50,455.77 269.70,459.10 C270.90,462.43 272.10,465.65 273.30,468.50 C274.50,471.35 276.30,474.92 276.90,476.20" fill="none" stroke="#151515" stroke-width="1.2" stroke-linejoin="round" stroke-linecap="round"/>
</svg>
</body></html>
